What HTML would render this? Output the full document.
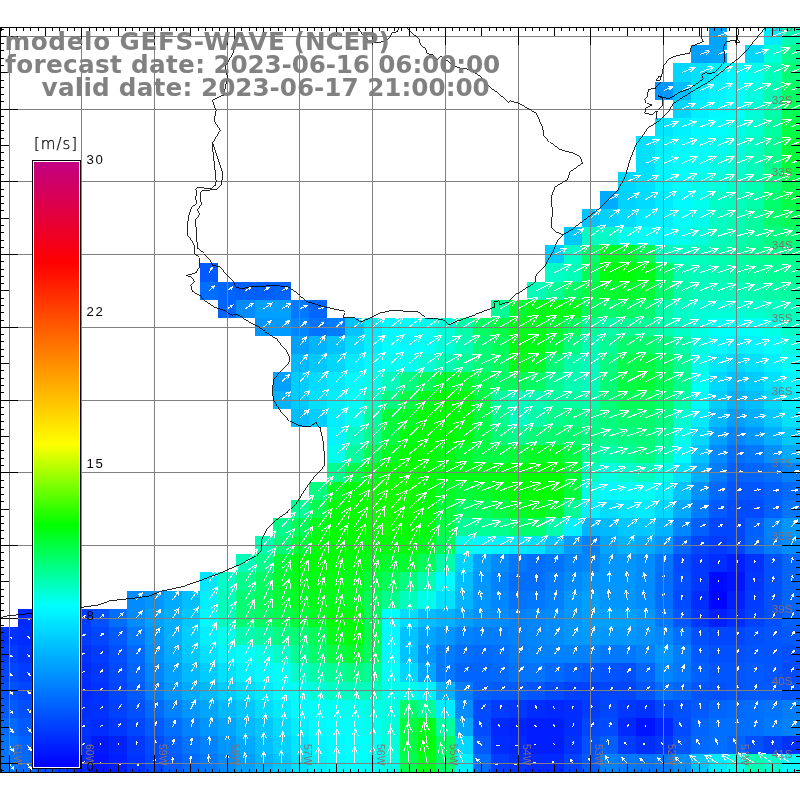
<!DOCTYPE html>
<html lang="pt"><head><meta charset="utf-8"><title>GEFS-WAVE wind</title>
<style>html,body{margin:0;padding:0;background:#fff;overflow:hidden}svg{display:block}</style></head>
<body>
<svg width="800" height="800" viewBox="0 0 800 800">
<defs><clipPath id="pc"><rect x="0" y="27" width="800" height="746"/></clipPath><linearGradient id="cb" x1="0" y1="0" x2="0" y2="1"><stop offset="0" stop-color="#c30082"/><stop offset="0.1667" stop-color="#ff0000"/><stop offset="0.4667" stop-color="#ffff00"/><stop offset="0.6" stop-color="#00ff00"/><stop offset="0.7333" stop-color="#00ffff"/><stop offset="1" stop-color="#0000ff"/></linearGradient></defs>
<rect width="800" height="800" fill="#fff"/>
<g clip-path="url(#pc)">
<g shape-rendering="crispEdges"><rect x="709" y="27" width="18" height="18" fill="#00a5ff"/><rect x="764" y="27" width="18" height="18" fill="#00ebff"/><rect x="782" y="27" width="18" height="18" fill="#00ffb3"/><rect x="691" y="45" width="18" height="18" fill="#00a0ff"/><rect x="709" y="45" width="18" height="18" fill="#00a5ff"/><rect x="745" y="45" width="19" height="18" fill="#00d7ff"/><rect x="764" y="45" width="18" height="18" fill="#00ffd6"/><rect x="782" y="45" width="18" height="18" fill="#00ff8b"/><rect x="673" y="63" width="18" height="19" fill="#00d7ff"/><rect x="691" y="63" width="18" height="19" fill="#00e1ff"/><rect x="709" y="63" width="18" height="19" fill="#00f0ff"/><rect x="727" y="63" width="18" height="19" fill="#00faff"/><rect x="745" y="63" width="19" height="19" fill="#00ffea"/><rect x="764" y="63" width="18" height="19" fill="#00ffbd"/><rect x="782" y="63" width="18" height="19" fill="#00ff77"/><rect x="655" y="82" width="18" height="18" fill="#0096ff"/><rect x="673" y="82" width="18" height="18" fill="#00beff"/><rect x="691" y="82" width="18" height="18" fill="#00ebff"/><rect x="709" y="82" width="18" height="18" fill="#00f5ff"/><rect x="727" y="82" width="18" height="18" fill="#00fff9"/><rect x="745" y="82" width="19" height="18" fill="#00ffe0"/><rect x="764" y="82" width="18" height="18" fill="#00ffb3"/><rect x="782" y="82" width="18" height="18" fill="#00ff63"/><rect x="673" y="100" width="18" height="18" fill="#00d7ff"/><rect x="691" y="100" width="18" height="18" fill="#00f0ff"/><rect x="709" y="100" width="18" height="18" fill="#00faff"/><rect x="727" y="100" width="18" height="18" fill="#00fff4"/><rect x="745" y="100" width="19" height="18" fill="#00ffd6"/><rect x="764" y="100" width="18" height="18" fill="#00ffa9"/><rect x="782" y="100" width="18" height="18" fill="#00ff59"/><rect x="655" y="118" width="18" height="18" fill="#00e6ff"/><rect x="673" y="118" width="18" height="18" fill="#00f0ff"/><rect x="691" y="118" width="18" height="18" fill="#00faff"/><rect x="709" y="118" width="18" height="18" fill="#00fff9"/><rect x="727" y="118" width="18" height="18" fill="#00ffea"/><rect x="745" y="118" width="19" height="18" fill="#00ffd1"/><rect x="764" y="118" width="18" height="18" fill="#00ff9f"/><rect x="782" y="118" width="18" height="18" fill="#00ff45"/><rect x="636" y="136" width="19" height="18" fill="#00e1ff"/><rect x="655" y="136" width="18" height="18" fill="#00f0ff"/><rect x="673" y="136" width="18" height="18" fill="#00faff"/><rect x="691" y="136" width="18" height="18" fill="#00fff9"/><rect x="709" y="136" width="18" height="18" fill="#00ffef"/><rect x="727" y="136" width="18" height="18" fill="#00ffe0"/><rect x="745" y="136" width="19" height="18" fill="#00ffc2"/><rect x="764" y="136" width="18" height="18" fill="#00ff95"/><rect x="782" y="136" width="18" height="18" fill="#00ff3b"/><rect x="636" y="154" width="19" height="18" fill="#00e1ff"/><rect x="655" y="154" width="18" height="18" fill="#00f5ff"/><rect x="673" y="154" width="18" height="18" fill="#00fff9"/><rect x="691" y="154" width="18" height="18" fill="#00fff4"/><rect x="709" y="154" width="18" height="18" fill="#00ffe5"/><rect x="727" y="154" width="18" height="18" fill="#00ffd1"/><rect x="745" y="154" width="19" height="18" fill="#00ffb8"/><rect x="764" y="154" width="18" height="18" fill="#00ff8b"/><rect x="782" y="154" width="18" height="18" fill="#00ff3b"/><rect x="618" y="172" width="18" height="19" fill="#00d7ff"/><rect x="636" y="172" width="19" height="19" fill="#00e1ff"/><rect x="655" y="172" width="18" height="19" fill="#00f5ff"/><rect x="673" y="172" width="18" height="19" fill="#00fff9"/><rect x="691" y="172" width="18" height="19" fill="#00ffea"/><rect x="709" y="172" width="18" height="19" fill="#00ffdb"/><rect x="727" y="172" width="18" height="19" fill="#00ffc7"/><rect x="745" y="172" width="19" height="19" fill="#00ffb3"/><rect x="764" y="172" width="18" height="19" fill="#00ff81"/><rect x="782" y="172" width="18" height="19" fill="#00ff4f"/><rect x="600" y="191" width="18" height="18" fill="#00aaff"/><rect x="618" y="191" width="18" height="18" fill="#00d2ff"/><rect x="636" y="191" width="19" height="18" fill="#00dcff"/><rect x="655" y="191" width="18" height="18" fill="#00ebff"/><rect x="673" y="191" width="18" height="18" fill="#00faff"/><rect x="691" y="191" width="18" height="18" fill="#00ffef"/><rect x="709" y="191" width="18" height="18" fill="#00ffc7"/><rect x="727" y="191" width="18" height="18" fill="#00ffbd"/><rect x="745" y="191" width="19" height="18" fill="#00ffa9"/><rect x="764" y="191" width="18" height="18" fill="#00ff6d"/><rect x="782" y="191" width="18" height="18" fill="#00ff45"/><rect x="582" y="209" width="18" height="18" fill="#00c3ff"/><rect x="600" y="209" width="18" height="18" fill="#00d2ff"/><rect x="618" y="209" width="18" height="18" fill="#00dcff"/><rect x="636" y="209" width="19" height="18" fill="#00ebff"/><rect x="655" y="209" width="18" height="18" fill="#00f0ff"/><rect x="673" y="209" width="18" height="18" fill="#00fff9"/><rect x="691" y="209" width="18" height="18" fill="#00ffea"/><rect x="709" y="209" width="18" height="18" fill="#00ffc2"/><rect x="727" y="209" width="18" height="18" fill="#00ffb3"/><rect x="745" y="209" width="19" height="18" fill="#00ff9f"/><rect x="764" y="209" width="18" height="18" fill="#00ff6d"/><rect x="782" y="209" width="18" height="18" fill="#00ff59"/><rect x="564" y="227" width="18" height="18" fill="#00c8ff"/><rect x="582" y="227" width="18" height="18" fill="#00ffc2"/><rect x="600" y="227" width="18" height="18" fill="#00ffc7"/><rect x="618" y="227" width="18" height="18" fill="#00ffea"/><rect x="636" y="227" width="19" height="18" fill="#00fff4"/><rect x="655" y="227" width="18" height="18" fill="#00faff"/><rect x="673" y="227" width="18" height="18" fill="#00ffef"/><rect x="691" y="227" width="18" height="18" fill="#00ffdb"/><rect x="709" y="227" width="18" height="18" fill="#00ffbd"/><rect x="727" y="227" width="18" height="18" fill="#00ffae"/><rect x="745" y="227" width="19" height="18" fill="#00ff9f"/><rect x="764" y="227" width="18" height="18" fill="#00ff81"/><rect x="782" y="227" width="18" height="18" fill="#00ff77"/><rect x="545" y="245" width="19" height="18" fill="#00cdff"/><rect x="564" y="245" width="18" height="18" fill="#00ffc7"/><rect x="582" y="245" width="18" height="18" fill="#00ff6d"/><rect x="600" y="245" width="18" height="18" fill="#00ff27"/><rect x="618" y="245" width="18" height="18" fill="#00ff31"/><rect x="636" y="245" width="19" height="18" fill="#00ff59"/><rect x="655" y="245" width="18" height="18" fill="#00ffbd"/><rect x="673" y="245" width="18" height="18" fill="#00ffc2"/><rect x="691" y="245" width="18" height="18" fill="#00ffbd"/><rect x="709" y="245" width="18" height="18" fill="#00ffae"/><rect x="727" y="245" width="18" height="18" fill="#00ffa4"/><rect x="745" y="245" width="19" height="18" fill="#00ff95"/><rect x="764" y="245" width="36" height="18" fill="#00ff8b"/><rect x="200" y="263" width="18" height="19" fill="#005aff"/><rect x="545" y="263" width="19" height="19" fill="#00ffc7"/><rect x="564" y="263" width="18" height="19" fill="#00ffb8"/><rect x="582" y="263" width="18" height="19" fill="#00ff59"/><rect x="600" y="263" width="18" height="19" fill="#00ff13"/><rect x="618" y="263" width="18" height="19" fill="#00ff09"/><rect x="636" y="263" width="19" height="19" fill="#00ff18"/><rect x="655" y="263" width="18" height="19" fill="#00ff63"/><rect x="673" y="263" width="18" height="19" fill="#00ffb3"/><rect x="691" y="263" width="18" height="19" fill="#00ffbd"/><rect x="709" y="263" width="18" height="19" fill="#00ffb3"/><rect x="727" y="263" width="18" height="19" fill="#00ffa9"/><rect x="745" y="263" width="19" height="19" fill="#00ff9f"/><rect x="764" y="263" width="36" height="19" fill="#00ff95"/><rect x="200" y="282" width="18" height="18" fill="#006eff"/><rect x="218" y="282" width="18" height="18" fill="#0064ff"/><rect x="236" y="282" width="37" height="18" fill="#005fff"/><rect x="273" y="282" width="18" height="18" fill="#0064ff"/><rect x="527" y="282" width="18" height="18" fill="#00ffb8"/><rect x="545" y="282" width="19" height="18" fill="#00ff95"/><rect x="564" y="282" width="18" height="18" fill="#00ff63"/><rect x="582" y="282" width="18" height="18" fill="#00ff45"/><rect x="600" y="282" width="18" height="18" fill="#00ff31"/><rect x="618" y="282" width="18" height="18" fill="#00ff2c"/><rect x="636" y="282" width="19" height="18" fill="#00ff36"/><rect x="655" y="282" width="18" height="18" fill="#00ff6d"/><rect x="673" y="282" width="18" height="18" fill="#00ffa9"/><rect x="691" y="282" width="36" height="18" fill="#00ffbd"/><rect x="727" y="282" width="18" height="18" fill="#00ffb8"/><rect x="745" y="282" width="19" height="18" fill="#00ffae"/><rect x="764" y="282" width="18" height="18" fill="#00ffa4"/><rect x="782" y="282" width="18" height="18" fill="#00ff9f"/><rect x="218" y="300" width="18" height="18" fill="#0064ff"/><rect x="236" y="300" width="19" height="18" fill="#008cff"/><rect x="255" y="300" width="36" height="18" fill="#00a0ff"/><rect x="291" y="300" width="18" height="18" fill="#0078ff"/><rect x="309" y="300" width="18" height="18" fill="#0064ff"/><rect x="491" y="300" width="18" height="18" fill="#00ff95"/><rect x="509" y="300" width="18" height="18" fill="#00ff31"/><rect x="527" y="300" width="18" height="18" fill="#00ff18"/><rect x="545" y="300" width="19" height="18" fill="#00ff13"/><rect x="564" y="300" width="18" height="18" fill="#00ff1d"/><rect x="582" y="300" width="18" height="18" fill="#00ff59"/><rect x="600" y="300" width="18" height="18" fill="#00ff6d"/><rect x="618" y="300" width="18" height="18" fill="#00ff63"/><rect x="636" y="300" width="19" height="18" fill="#00ff6d"/><rect x="655" y="300" width="18" height="18" fill="#00ffa9"/><rect x="673" y="300" width="18" height="18" fill="#00ffc7"/><rect x="691" y="300" width="54" height="18" fill="#00ffd6"/><rect x="745" y="300" width="19" height="18" fill="#00ffcc"/><rect x="764" y="300" width="18" height="18" fill="#00ffc2"/><rect x="782" y="300" width="18" height="18" fill="#00ffb8"/><rect x="255" y="318" width="18" height="18" fill="#0096ff"/><rect x="273" y="318" width="18" height="18" fill="#009bff"/><rect x="291" y="318" width="18" height="18" fill="#0087ff"/><rect x="309" y="318" width="18" height="18" fill="#0073ff"/><rect x="327" y="318" width="18" height="18" fill="#007dff"/><rect x="345" y="318" width="19" height="18" fill="#00c3ff"/><rect x="364" y="318" width="18" height="18" fill="#00ebff"/><rect x="382" y="318" width="18" height="18" fill="#00faff"/><rect x="400" y="318" width="18" height="18" fill="#00fff9"/><rect x="418" y="318" width="18" height="18" fill="#00ffef"/><rect x="436" y="318" width="19" height="18" fill="#00ffd6"/><rect x="455" y="318" width="18" height="18" fill="#00ffa9"/><rect x="473" y="318" width="18" height="18" fill="#00ff63"/><rect x="491" y="318" width="18" height="18" fill="#00ff45"/><rect x="509" y="318" width="36" height="18" fill="#00ff1d"/><rect x="545" y="318" width="19" height="18" fill="#00ff31"/><rect x="564" y="318" width="18" height="18" fill="#00ff59"/><rect x="582" y="318" width="18" height="18" fill="#00ff95"/><rect x="600" y="318" width="18" height="18" fill="#00ffa9"/><rect x="618" y="318" width="37" height="18" fill="#00ff95"/><rect x="655" y="318" width="18" height="18" fill="#00ffae"/><rect x="673" y="318" width="18" height="18" fill="#00ffc7"/><rect x="691" y="318" width="18" height="18" fill="#00ffe0"/><rect x="709" y="318" width="18" height="18" fill="#00fff4"/><rect x="727" y="318" width="18" height="18" fill="#00fff9"/><rect x="745" y="318" width="19" height="18" fill="#00fff4"/><rect x="764" y="318" width="18" height="18" fill="#00ffe5"/><rect x="782" y="318" width="18" height="18" fill="#00ffc7"/><rect x="291" y="336" width="18" height="18" fill="#00a0ff"/><rect x="309" y="336" width="18" height="18" fill="#00b4ff"/><rect x="327" y="336" width="18" height="18" fill="#00c3ff"/><rect x="345" y="336" width="19" height="18" fill="#00dcff"/><rect x="364" y="336" width="18" height="18" fill="#00f0ff"/><rect x="382" y="336" width="18" height="18" fill="#00ffff"/><rect x="400" y="336" width="18" height="18" fill="#00faff"/><rect x="418" y="336" width="18" height="18" fill="#00fff4"/><rect x="436" y="336" width="19" height="18" fill="#00ffd6"/><rect x="455" y="336" width="18" height="18" fill="#00ffb3"/><rect x="473" y="336" width="18" height="18" fill="#00ff77"/><rect x="491" y="336" width="18" height="18" fill="#00ff59"/><rect x="509" y="336" width="18" height="18" fill="#00ff13"/><rect x="527" y="336" width="18" height="18" fill="#00ff18"/><rect x="545" y="336" width="19" height="18" fill="#00ff3b"/><rect x="564" y="336" width="18" height="18" fill="#00ff81"/><rect x="582" y="336" width="18" height="18" fill="#00ffb3"/><rect x="600" y="336" width="18" height="18" fill="#00ff95"/><rect x="618" y="336" width="37" height="18" fill="#00ff6d"/><rect x="655" y="336" width="18" height="18" fill="#00ff81"/><rect x="673" y="336" width="18" height="18" fill="#00ffa9"/><rect x="691" y="336" width="18" height="18" fill="#00ffe0"/><rect x="709" y="336" width="18" height="18" fill="#00faff"/><rect x="727" y="336" width="18" height="18" fill="#00f0ff"/><rect x="745" y="336" width="19" height="18" fill="#00f5ff"/><rect x="764" y="336" width="18" height="18" fill="#00ffff"/><rect x="782" y="336" width="18" height="18" fill="#00ffe0"/><rect x="291" y="354" width="18" height="18" fill="#00b9ff"/><rect x="309" y="354" width="18" height="18" fill="#00c8ff"/><rect x="327" y="354" width="18" height="18" fill="#00d7ff"/><rect x="345" y="354" width="19" height="18" fill="#00ebff"/><rect x="364" y="354" width="18" height="18" fill="#00faff"/><rect x="382" y="354" width="18" height="18" fill="#00fff4"/><rect x="400" y="354" width="18" height="18" fill="#00ffef"/><rect x="418" y="354" width="18" height="18" fill="#00ffd6"/><rect x="436" y="354" width="19" height="18" fill="#00ffb3"/><rect x="455" y="354" width="18" height="18" fill="#00ff95"/><rect x="473" y="354" width="18" height="18" fill="#00ff77"/><rect x="491" y="354" width="18" height="18" fill="#00ff63"/><rect x="509" y="354" width="18" height="18" fill="#00ff1d"/><rect x="527" y="354" width="18" height="18" fill="#00ff31"/><rect x="545" y="354" width="19" height="18" fill="#00ff77"/><rect x="564" y="354" width="18" height="18" fill="#00ffa9"/><rect x="582" y="354" width="18" height="18" fill="#00ffbd"/><rect x="600" y="354" width="18" height="18" fill="#00ff81"/><rect x="618" y="354" width="18" height="18" fill="#00ff4f"/><rect x="636" y="354" width="19" height="18" fill="#00ff45"/><rect x="655" y="354" width="18" height="18" fill="#00ff63"/><rect x="673" y="354" width="18" height="18" fill="#00ff95"/><rect x="691" y="354" width="18" height="18" fill="#00ffea"/><rect x="709" y="354" width="18" height="18" fill="#00e6ff"/><rect x="727" y="354" width="18" height="18" fill="#00d7ff"/><rect x="745" y="354" width="19" height="18" fill="#00e1ff"/><rect x="764" y="354" width="18" height="18" fill="#00f0ff"/><rect x="782" y="354" width="18" height="18" fill="#00fff9"/><rect x="273" y="372" width="18" height="19" fill="#00a0ff"/><rect x="291" y="372" width="18" height="19" fill="#00cdff"/><rect x="309" y="372" width="18" height="19" fill="#00dcff"/><rect x="327" y="372" width="18" height="19" fill="#00ebff"/><rect x="345" y="372" width="19" height="19" fill="#00faff"/><rect x="364" y="372" width="18" height="19" fill="#00ffea"/><rect x="382" y="372" width="18" height="19" fill="#00ffbd"/><rect x="400" y="372" width="18" height="19" fill="#00ff81"/><rect x="418" y="372" width="18" height="19" fill="#00ff59"/><rect x="436" y="372" width="37" height="19" fill="#00ff31"/><rect x="473" y="372" width="18" height="19" fill="#00ff4f"/><rect x="491" y="372" width="18" height="19" fill="#00ff63"/><rect x="509" y="372" width="18" height="19" fill="#00ff59"/><rect x="527" y="372" width="18" height="19" fill="#00ff63"/><rect x="545" y="372" width="19" height="19" fill="#00ff95"/><rect x="564" y="372" width="18" height="19" fill="#00ffb3"/><rect x="582" y="372" width="18" height="19" fill="#00ffbd"/><rect x="600" y="372" width="18" height="19" fill="#00ff77"/><rect x="618" y="372" width="18" height="19" fill="#00ff45"/><rect x="636" y="372" width="19" height="19" fill="#00ff3b"/><rect x="655" y="372" width="18" height="19" fill="#00ff59"/><rect x="673" y="372" width="18" height="19" fill="#00ff8b"/><rect x="691" y="372" width="18" height="19" fill="#00fff4"/><rect x="709" y="372" width="18" height="19" fill="#00d7ff"/><rect x="727" y="372" width="18" height="19" fill="#00c3ff"/><rect x="745" y="372" width="19" height="19" fill="#00cdff"/><rect x="764" y="372" width="18" height="19" fill="#00e1ff"/><rect x="782" y="372" width="18" height="19" fill="#00f5ff"/><rect x="273" y="391" width="18" height="18" fill="#00b4ff"/><rect x="291" y="391" width="18" height="18" fill="#00cdff"/><rect x="309" y="391" width="18" height="18" fill="#00e1ff"/><rect x="327" y="391" width="18" height="18" fill="#00f0ff"/><rect x="345" y="391" width="19" height="18" fill="#00fff9"/><rect x="364" y="391" width="18" height="18" fill="#00ffc2"/><rect x="382" y="391" width="18" height="18" fill="#00ff81"/><rect x="400" y="391" width="18" height="18" fill="#00ff45"/><rect x="418" y="391" width="18" height="18" fill="#00ff1d"/><rect x="436" y="391" width="19" height="18" fill="#00ff00"/><rect x="455" y="391" width="18" height="18" fill="#00ff09"/><rect x="473" y="391" width="18" height="18" fill="#00ff45"/><rect x="491" y="391" width="18" height="18" fill="#00ff9f"/><rect x="509" y="391" width="18" height="18" fill="#00ffbd"/><rect x="527" y="391" width="18" height="18" fill="#00ffb3"/><rect x="545" y="391" width="37" height="18" fill="#00ff9f"/><rect x="582" y="391" width="18" height="18" fill="#00ffa9"/><rect x="600" y="391" width="18" height="18" fill="#00ff77"/><rect x="618" y="391" width="37" height="18" fill="#00ff59"/><rect x="655" y="391" width="18" height="18" fill="#00ff6d"/><rect x="673" y="391" width="18" height="18" fill="#00ffa9"/><rect x="691" y="391" width="18" height="18" fill="#00faff"/><rect x="709" y="391" width="18" height="18" fill="#00cdff"/><rect x="727" y="391" width="18" height="18" fill="#00b4ff"/><rect x="745" y="391" width="19" height="18" fill="#00beff"/><rect x="764" y="391" width="18" height="18" fill="#00d7ff"/><rect x="782" y="391" width="18" height="18" fill="#00ebff"/><rect x="291" y="409" width="18" height="18" fill="#00beff"/><rect x="309" y="409" width="18" height="18" fill="#00cdff"/><rect x="327" y="409" width="18" height="18" fill="#00eeff"/><rect x="345" y="409" width="19" height="18" fill="#00ffea"/><rect x="364" y="409" width="18" height="18" fill="#00ff9f"/><rect x="382" y="409" width="18" height="18" fill="#00ff3b"/><rect x="400" y="409" width="18" height="18" fill="#00ff27"/><rect x="418" y="409" width="18" height="18" fill="#00ff04"/><rect x="436" y="409" width="19" height="18" fill="#00ff00"/><rect x="455" y="409" width="18" height="18" fill="#00ff0e"/><rect x="473" y="409" width="18" height="18" fill="#00ff45"/><rect x="491" y="409" width="18" height="18" fill="#00ff8b"/><rect x="509" y="409" width="18" height="18" fill="#00ffc2"/><rect x="527" y="409" width="18" height="18" fill="#00ffa9"/><rect x="545" y="409" width="19" height="18" fill="#00ff8b"/><rect x="564" y="409" width="18" height="18" fill="#00ff81"/><rect x="582" y="409" width="18" height="18" fill="#00ff8b"/><rect x="600" y="409" width="18" height="18" fill="#00ff7c"/><rect x="618" y="409" width="37" height="18" fill="#00ff6d"/><rect x="655" y="409" width="18" height="18" fill="#00ff81"/><rect x="673" y="409" width="18" height="18" fill="#00ffd1"/><rect x="691" y="409" width="18" height="18" fill="#00ebff"/><rect x="709" y="409" width="18" height="18" fill="#00b9ff"/><rect x="727" y="409" width="18" height="18" fill="#00a0ff"/><rect x="745" y="409" width="19" height="18" fill="#00afff"/><rect x="764" y="409" width="18" height="18" fill="#00c8ff"/><rect x="782" y="409" width="18" height="18" fill="#00e1ff"/><rect x="327" y="427" width="18" height="18" fill="#00f5ff"/><rect x="345" y="427" width="19" height="18" fill="#00ffc7"/><rect x="364" y="427" width="18" height="18" fill="#00ff8b"/><rect x="382" y="427" width="18" height="18" fill="#00ff40"/><rect x="400" y="427" width="18" height="18" fill="#00ff13"/><rect x="418" y="427" width="37" height="18" fill="#00ff00"/><rect x="455" y="427" width="18" height="18" fill="#00ff18"/><rect x="473" y="427" width="18" height="18" fill="#00ff45"/><rect x="491" y="427" width="18" height="18" fill="#00ff77"/><rect x="509" y="427" width="18" height="18" fill="#00ff8b"/><rect x="527" y="427" width="18" height="18" fill="#00ff77"/><rect x="545" y="427" width="37" height="18" fill="#00ff6d"/><rect x="582" y="427" width="18" height="18" fill="#00ff81"/><rect x="600" y="427" width="18" height="18" fill="#00ff8b"/><rect x="618" y="427" width="18" height="18" fill="#00ff81"/><rect x="636" y="427" width="19" height="18" fill="#00ff77"/><rect x="655" y="427" width="18" height="18" fill="#00ff95"/><rect x="673" y="427" width="18" height="18" fill="#00ffea"/><rect x="691" y="427" width="18" height="18" fill="#00d7ff"/><rect x="709" y="427" width="18" height="18" fill="#00a0ff"/><rect x="727" y="427" width="18" height="18" fill="#0087ff"/><rect x="745" y="427" width="19" height="18" fill="#0096ff"/><rect x="764" y="427" width="18" height="18" fill="#00afff"/><rect x="782" y="427" width="18" height="18" fill="#00c8ff"/><rect x="327" y="445" width="18" height="18" fill="#00ffea"/><rect x="345" y="445" width="19" height="18" fill="#00ff9f"/><rect x="364" y="445" width="18" height="18" fill="#00ff54"/><rect x="382" y="445" width="18" height="18" fill="#00ff22"/><rect x="400" y="445" width="18" height="18" fill="#00ff00"/><rect x="418" y="445" width="18" height="18" fill="#05ff00"/><rect x="436" y="445" width="19" height="18" fill="#00ff18"/><rect x="455" y="445" width="18" height="18" fill="#00ff31"/><rect x="473" y="445" width="36" height="18" fill="#00ff45"/><rect x="509" y="445" width="18" height="18" fill="#00ff3b"/><rect x="527" y="445" width="37" height="18" fill="#00ff27"/><rect x="564" y="445" width="18" height="18" fill="#00ff45"/><rect x="582" y="445" width="18" height="18" fill="#00ff95"/><rect x="600" y="445" width="18" height="18" fill="#00ffa9"/><rect x="618" y="445" width="18" height="18" fill="#00ff95"/><rect x="636" y="445" width="19" height="18" fill="#00ff81"/><rect x="655" y="445" width="18" height="18" fill="#00ffae"/><rect x="673" y="445" width="18" height="18" fill="#00faff"/><rect x="691" y="445" width="18" height="18" fill="#00c3ff"/><rect x="709" y="445" width="18" height="18" fill="#008cff"/><rect x="727" y="445" width="18" height="18" fill="#006eff"/><rect x="745" y="445" width="19" height="18" fill="#0078ff"/><rect x="764" y="445" width="18" height="18" fill="#0091ff"/><rect x="782" y="445" width="18" height="18" fill="#00aaff"/><rect x="327" y="463" width="18" height="19" fill="#00ff90"/><rect x="345" y="463" width="19" height="19" fill="#00ff4a"/><rect x="364" y="463" width="18" height="19" fill="#00ff1d"/><rect x="382" y="463" width="18" height="19" fill="#05ff00"/><rect x="400" y="463" width="18" height="19" fill="#0aff00"/><rect x="418" y="463" width="18" height="19" fill="#00ff00"/><rect x="436" y="463" width="19" height="19" fill="#00ff13"/><rect x="455" y="463" width="36" height="19" fill="#00ff18"/><rect x="491" y="463" width="18" height="19" fill="#00ff13"/><rect x="509" y="463" width="18" height="19" fill="#00ff09"/><rect x="527" y="463" width="37" height="19" fill="#00ff00"/><rect x="564" y="463" width="18" height="19" fill="#00ff31"/><rect x="582" y="463" width="18" height="19" fill="#00ffbd"/><rect x="600" y="463" width="18" height="19" fill="#00ffe0"/><rect x="618" y="463" width="18" height="19" fill="#00ffcc"/><rect x="636" y="463" width="19" height="19" fill="#00ffbd"/><rect x="655" y="463" width="18" height="19" fill="#00ffe0"/><rect x="673" y="463" width="18" height="19" fill="#00e1ff"/><rect x="691" y="463" width="18" height="19" fill="#00afff"/><rect x="709" y="463" width="18" height="19" fill="#007dff"/><rect x="727" y="463" width="18" height="19" fill="#005fff"/><rect x="745" y="463" width="19" height="19" fill="#0064ff"/><rect x="764" y="463" width="18" height="19" fill="#006eff"/><rect x="782" y="463" width="18" height="19" fill="#0082ff"/><rect x="309" y="482" width="18" height="18" fill="#00ff81"/><rect x="327" y="482" width="18" height="18" fill="#00ff27"/><rect x="345" y="482" width="19" height="18" fill="#00ff09"/><rect x="364" y="482" width="18" height="18" fill="#0aff00"/><rect x="382" y="482" width="36" height="18" fill="#14ff00"/><rect x="418" y="482" width="18" height="18" fill="#00ff09"/><rect x="436" y="482" width="19" height="18" fill="#00ff27"/><rect x="455" y="482" width="18" height="18" fill="#00ff3b"/><rect x="473" y="482" width="18" height="18" fill="#00ff31"/><rect x="491" y="482" width="18" height="18" fill="#00ff1d"/><rect x="509" y="482" width="18" height="18" fill="#00ff00"/><rect x="527" y="482" width="18" height="18" fill="#05ff00"/><rect x="545" y="482" width="19" height="18" fill="#00ff00"/><rect x="564" y="482" width="18" height="18" fill="#00ff3b"/><rect x="582" y="482" width="18" height="18" fill="#00ffe5"/><rect x="600" y="482" width="18" height="18" fill="#00faff"/><rect x="618" y="482" width="18" height="18" fill="#00fff9"/><rect x="636" y="482" width="19" height="18" fill="#00fff4"/><rect x="655" y="482" width="18" height="18" fill="#00f0ff"/><rect x="673" y="482" width="18" height="18" fill="#00c3ff"/><rect x="691" y="482" width="18" height="18" fill="#0091ff"/><rect x="709" y="482" width="18" height="18" fill="#0069ff"/><rect x="727" y="482" width="37" height="18" fill="#0055ff"/><rect x="764" y="482" width="18" height="18" fill="#005fff"/><rect x="782" y="482" width="18" height="18" fill="#0069ff"/><rect x="291" y="500" width="18" height="18" fill="#00ff95"/><rect x="309" y="500" width="18" height="18" fill="#00ff4f"/><rect x="327" y="500" width="18" height="18" fill="#00ff09"/><rect x="345" y="500" width="19" height="18" fill="#08ff00"/><rect x="364" y="500" width="18" height="18" fill="#0fff00"/><rect x="382" y="500" width="18" height="18" fill="#14ff00"/><rect x="400" y="500" width="18" height="18" fill="#0fff00"/><rect x="418" y="500" width="18" height="18" fill="#00ff09"/><rect x="436" y="500" width="19" height="18" fill="#00ff3b"/><rect x="455" y="500" width="18" height="18" fill="#00ff63"/><rect x="473" y="500" width="18" height="18" fill="#00ff59"/><rect x="491" y="500" width="18" height="18" fill="#00ff45"/><rect x="509" y="500" width="18" height="18" fill="#00ff27"/><rect x="527" y="500" width="18" height="18" fill="#00ff1d"/><rect x="545" y="500" width="19" height="18" fill="#00ff31"/><rect x="564" y="500" width="18" height="18" fill="#00ff95"/><rect x="582" y="500" width="18" height="18" fill="#00f0ff"/><rect x="600" y="500" width="18" height="18" fill="#00dcff"/><rect x="618" y="500" width="18" height="18" fill="#00e6ff"/><rect x="636" y="500" width="19" height="18" fill="#00ebff"/><rect x="655" y="500" width="18" height="18" fill="#00d7ff"/><rect x="673" y="500" width="18" height="18" fill="#00aaff"/><rect x="691" y="500" width="18" height="18" fill="#007dff"/><rect x="709" y="500" width="18" height="18" fill="#005aff"/><rect x="727" y="500" width="37" height="18" fill="#004bff"/><rect x="764" y="500" width="18" height="18" fill="#005fff"/><rect x="782" y="500" width="18" height="18" fill="#0073ff"/><rect x="273" y="518" width="18" height="18" fill="#00ff8b"/><rect x="291" y="518" width="18" height="18" fill="#00ff59"/><rect x="309" y="518" width="18" height="18" fill="#00ff1d"/><rect x="327" y="518" width="37" height="18" fill="#00ff00"/><rect x="364" y="518" width="18" height="18" fill="#0aff00"/><rect x="382" y="518" width="18" height="18" fill="#0fff00"/><rect x="400" y="518" width="18" height="18" fill="#05ff00"/><rect x="418" y="518" width="18" height="18" fill="#00ff13"/><rect x="436" y="518" width="19" height="18" fill="#00ff45"/><rect x="455" y="518" width="36" height="18" fill="#00ff95"/><rect x="491" y="518" width="18" height="18" fill="#00ff8b"/><rect x="509" y="518" width="36" height="18" fill="#00ff6d"/><rect x="545" y="518" width="19" height="18" fill="#00ffa9"/><rect x="564" y="518" width="18" height="18" fill="#00f0ff"/><rect x="582" y="518" width="18" height="18" fill="#00b4ff"/><rect x="600" y="518" width="18" height="18" fill="#00b9ff"/><rect x="618" y="518" width="37" height="18" fill="#00c8ff"/><rect x="655" y="518" width="18" height="18" fill="#00b4ff"/><rect x="673" y="518" width="18" height="18" fill="#0087ff"/><rect x="691" y="518" width="18" height="18" fill="#005fff"/><rect x="709" y="518" width="36" height="18" fill="#0046ff"/><rect x="745" y="518" width="19" height="18" fill="#005fff"/><rect x="764" y="518" width="18" height="18" fill="#0082ff"/><rect x="782" y="518" width="18" height="18" fill="#0096ff"/><rect x="255" y="536" width="18" height="18" fill="#00ffb3"/><rect x="273" y="536" width="18" height="18" fill="#00ff77"/><rect x="291" y="536" width="18" height="18" fill="#00ff3b"/><rect x="309" y="536" width="18" height="18" fill="#00ff0e"/><rect x="327" y="536" width="37" height="18" fill="#00ff00"/><rect x="364" y="536" width="54" height="18" fill="#00ff09"/><rect x="418" y="536" width="18" height="18" fill="#00ff1d"/><rect x="436" y="536" width="19" height="18" fill="#00ff59"/><rect x="455" y="536" width="18" height="18" fill="#00ffea"/><rect x="473" y="536" width="18" height="18" fill="#00faff"/><rect x="491" y="536" width="18" height="18" fill="#00f5ff"/><rect x="509" y="536" width="18" height="18" fill="#00ebff"/><rect x="527" y="536" width="18" height="18" fill="#00e1ff"/><rect x="545" y="536" width="19" height="18" fill="#00c3ff"/><rect x="564" y="536" width="18" height="18" fill="#009bff"/><rect x="582" y="536" width="18" height="18" fill="#0082ff"/><rect x="600" y="536" width="18" height="18" fill="#00a5ff"/><rect x="618" y="536" width="18" height="18" fill="#00b4ff"/><rect x="636" y="536" width="19" height="18" fill="#00aaff"/><rect x="655" y="536" width="18" height="18" fill="#0096ff"/><rect x="673" y="536" width="18" height="18" fill="#0064ff"/><rect x="691" y="536" width="18" height="18" fill="#0046ff"/><rect x="709" y="536" width="18" height="18" fill="#003cff"/><rect x="727" y="536" width="18" height="18" fill="#0046ff"/><rect x="745" y="536" width="19" height="18" fill="#0064ff"/><rect x="764" y="536" width="18" height="18" fill="#007dff"/><rect x="782" y="536" width="18" height="18" fill="#008cff"/><rect x="236" y="554" width="19" height="18" fill="#00ffb8"/><rect x="255" y="554" width="18" height="18" fill="#00ff8b"/><rect x="273" y="554" width="18" height="18" fill="#00ff3b"/><rect x="291" y="554" width="18" height="18" fill="#00ff13"/><rect x="309" y="554" width="36" height="18" fill="#00ff04"/><rect x="345" y="554" width="19" height="18" fill="#00ff0e"/><rect x="364" y="554" width="18" height="18" fill="#00ff1d"/><rect x="382" y="554" width="36" height="18" fill="#00ff31"/><rect x="418" y="554" width="18" height="18" fill="#00ff59"/><rect x="436" y="554" width="19" height="18" fill="#00ffa9"/><rect x="455" y="554" width="18" height="18" fill="#00d2ff"/><rect x="473" y="554" width="18" height="18" fill="#00a0ff"/><rect x="491" y="554" width="18" height="18" fill="#008cff"/><rect x="509" y="554" width="18" height="18" fill="#0078ff"/><rect x="527" y="554" width="18" height="18" fill="#006eff"/><rect x="545" y="554" width="19" height="18" fill="#0073ff"/><rect x="564" y="554" width="18" height="18" fill="#0082ff"/><rect x="582" y="554" width="18" height="18" fill="#0087ff"/><rect x="600" y="554" width="36" height="18" fill="#0096ff"/><rect x="636" y="554" width="19" height="18" fill="#008cff"/><rect x="655" y="554" width="18" height="18" fill="#0073ff"/><rect x="673" y="554" width="18" height="18" fill="#004bff"/><rect x="691" y="554" width="18" height="18" fill="#0037ff"/><rect x="709" y="554" width="18" height="18" fill="#002dff"/><rect x="727" y="554" width="18" height="18" fill="#001eff"/><rect x="745" y="554" width="19" height="18" fill="#0032ff"/><rect x="764" y="554" width="18" height="18" fill="#0050ff"/><rect x="782" y="554" width="18" height="18" fill="#0064ff"/><rect x="200" y="572" width="18" height="19" fill="#00e6ff"/><rect x="218" y="572" width="18" height="19" fill="#00ffc7"/><rect x="236" y="572" width="19" height="19" fill="#00ff8b"/><rect x="255" y="572" width="18" height="19" fill="#00ff63"/><rect x="273" y="572" width="18" height="19" fill="#00ff31"/><rect x="291" y="572" width="18" height="19" fill="#00ff1d"/><rect x="309" y="572" width="36" height="19" fill="#00ff13"/><rect x="345" y="572" width="19" height="19" fill="#00ff1d"/><rect x="364" y="572" width="18" height="19" fill="#00ff3b"/><rect x="382" y="572" width="18" height="19" fill="#00ff59"/><rect x="400" y="572" width="18" height="19" fill="#00ff81"/><rect x="418" y="572" width="18" height="19" fill="#00ffb3"/><rect x="436" y="572" width="19" height="19" fill="#00faff"/><rect x="455" y="572" width="18" height="19" fill="#00beff"/><rect x="473" y="572" width="18" height="19" fill="#0096ff"/><rect x="491" y="572" width="18" height="19" fill="#0082ff"/><rect x="509" y="572" width="36" height="19" fill="#006eff"/><rect x="545" y="572" width="19" height="19" fill="#007dff"/><rect x="564" y="572" width="18" height="19" fill="#008cff"/><rect x="582" y="572" width="54" height="19" fill="#0096ff"/><rect x="636" y="572" width="19" height="19" fill="#008cff"/><rect x="655" y="572" width="18" height="19" fill="#006eff"/><rect x="673" y="572" width="18" height="19" fill="#0050ff"/><rect x="691" y="572" width="18" height="19" fill="#0037ff"/><rect x="709" y="572" width="18" height="19" fill="#000aff"/><rect x="727" y="572" width="18" height="19" fill="#0014ff"/><rect x="745" y="572" width="19" height="19" fill="#0037ff"/><rect x="764" y="572" width="18" height="19" fill="#0050ff"/><rect x="782" y="572" width="18" height="19" fill="#0064ff"/><rect x="127" y="591" width="18" height="18" fill="#008cff"/><rect x="145" y="591" width="19" height="18" fill="#0096ff"/><rect x="164" y="591" width="18" height="18" fill="#00aaff"/><rect x="182" y="591" width="18" height="18" fill="#00beff"/><rect x="200" y="591" width="18" height="18" fill="#00f0ff"/><rect x="218" y="591" width="18" height="18" fill="#00ffbd"/><rect x="236" y="591" width="19" height="18" fill="#00ff72"/><rect x="255" y="591" width="18" height="18" fill="#00ff59"/><rect x="273" y="591" width="18" height="18" fill="#00ff36"/><rect x="291" y="591" width="18" height="18" fill="#00ff27"/><rect x="309" y="591" width="36" height="18" fill="#00ff1d"/><rect x="345" y="591" width="19" height="18" fill="#00ff27"/><rect x="364" y="591" width="18" height="18" fill="#00ff59"/><rect x="382" y="591" width="18" height="18" fill="#00ff8b"/><rect x="400" y="591" width="18" height="18" fill="#00ffbd"/><rect x="418" y="591" width="18" height="18" fill="#00ffea"/><rect x="436" y="591" width="19" height="18" fill="#00e1ff"/><rect x="455" y="591" width="18" height="18" fill="#00b4ff"/><rect x="473" y="591" width="18" height="18" fill="#0096ff"/><rect x="491" y="591" width="18" height="18" fill="#0087ff"/><rect x="509" y="591" width="18" height="18" fill="#0073ff"/><rect x="527" y="591" width="18" height="18" fill="#0078ff"/><rect x="545" y="591" width="19" height="18" fill="#0082ff"/><rect x="564" y="591" width="18" height="18" fill="#0096ff"/><rect x="582" y="591" width="18" height="18" fill="#00a0ff"/><rect x="600" y="591" width="36" height="18" fill="#0096ff"/><rect x="636" y="591" width="19" height="18" fill="#008cff"/><rect x="655" y="591" width="18" height="18" fill="#006eff"/><rect x="673" y="591" width="18" height="18" fill="#004bff"/><rect x="691" y="591" width="18" height="18" fill="#002dff"/><rect x="709" y="591" width="18" height="18" fill="#0005ff"/><rect x="727" y="591" width="18" height="18" fill="#001eff"/><rect x="745" y="591" width="19" height="18" fill="#003cff"/><rect x="764" y="591" width="18" height="18" fill="#0050ff"/><rect x="782" y="591" width="18" height="18" fill="#0064ff"/><rect x="18" y="609" width="18" height="18" fill="#0028ff"/><rect x="36" y="609" width="19" height="18" fill="#002dff"/><rect x="55" y="609" width="18" height="18" fill="#0032ff"/><rect x="73" y="609" width="18" height="18" fill="#003cff"/><rect x="91" y="609" width="18" height="18" fill="#0050ff"/><rect x="109" y="609" width="18" height="18" fill="#006eff"/><rect x="127" y="609" width="18" height="18" fill="#008cff"/><rect x="145" y="609" width="19" height="18" fill="#00a0ff"/><rect x="164" y="609" width="18" height="18" fill="#00afff"/><rect x="182" y="609" width="18" height="18" fill="#00c8ff"/><rect x="200" y="609" width="18" height="18" fill="#00faff"/><rect x="218" y="609" width="18" height="18" fill="#00ffbd"/><rect x="236" y="609" width="19" height="18" fill="#00ff72"/><rect x="255" y="609" width="18" height="18" fill="#00ff63"/><rect x="273" y="609" width="18" height="18" fill="#00ff4f"/><rect x="291" y="609" width="18" height="18" fill="#00ff3b"/><rect x="309" y="609" width="18" height="18" fill="#00ff27"/><rect x="327" y="609" width="37" height="18" fill="#00ff09"/><rect x="364" y="609" width="18" height="18" fill="#00ff59"/><rect x="382" y="609" width="18" height="18" fill="#00ffff"/><rect x="400" y="609" width="18" height="18" fill="#00dcff"/><rect x="418" y="609" width="18" height="18" fill="#00beff"/><rect x="436" y="609" width="19" height="18" fill="#00b2ff"/><rect x="455" y="609" width="18" height="18" fill="#009eff"/><rect x="473" y="609" width="18" height="18" fill="#0091ff"/><rect x="491" y="609" width="18" height="18" fill="#008cff"/><rect x="509" y="609" width="18" height="18" fill="#0082ff"/><rect x="527" y="609" width="18" height="18" fill="#0087ff"/><rect x="545" y="609" width="19" height="18" fill="#008cff"/><rect x="564" y="609" width="18" height="18" fill="#0096ff"/><rect x="582" y="609" width="54" height="18" fill="#00a0ff"/><rect x="636" y="609" width="19" height="18" fill="#0096ff"/><rect x="655" y="609" width="18" height="18" fill="#0078ff"/><rect x="673" y="609" width="18" height="18" fill="#0055ff"/><rect x="691" y="609" width="18" height="18" fill="#0037ff"/><rect x="709" y="609" width="18" height="18" fill="#001eff"/><rect x="727" y="609" width="18" height="18" fill="#002dff"/><rect x="745" y="609" width="19" height="18" fill="#0041ff"/><rect x="764" y="609" width="18" height="18" fill="#0050ff"/><rect x="782" y="609" width="18" height="18" fill="#005fff"/><rect x="0" y="627" width="18" height="18" fill="#0032ff"/><rect x="18" y="627" width="18" height="18" fill="#002dff"/><rect x="36" y="627" width="19" height="18" fill="#0030ff"/><rect x="55" y="627" width="18" height="18" fill="#0034ff"/><rect x="73" y="627" width="18" height="18" fill="#003cff"/><rect x="91" y="627" width="18" height="18" fill="#0046ff"/><rect x="109" y="627" width="18" height="18" fill="#005aff"/><rect x="127" y="627" width="18" height="18" fill="#0078ff"/><rect x="145" y="627" width="19" height="18" fill="#0096ff"/><rect x="164" y="627" width="18" height="18" fill="#00afff"/><rect x="182" y="627" width="18" height="18" fill="#00cdff"/><rect x="200" y="627" width="18" height="18" fill="#00f0ff"/><rect x="218" y="627" width="18" height="18" fill="#00ffea"/><rect x="236" y="627" width="19" height="18" fill="#00ffb3"/><rect x="255" y="627" width="18" height="18" fill="#00ff9f"/><rect x="273" y="627" width="18" height="18" fill="#00ff81"/><rect x="291" y="627" width="18" height="18" fill="#00ff77"/><rect x="309" y="627" width="18" height="18" fill="#00ff59"/><rect x="327" y="627" width="18" height="18" fill="#00ff1d"/><rect x="345" y="627" width="19" height="18" fill="#00ff0e"/><rect x="364" y="627" width="18" height="18" fill="#00ff4f"/><rect x="382" y="627" width="18" height="18" fill="#00faff"/><rect x="400" y="627" width="18" height="18" fill="#00c3ff"/><rect x="418" y="627" width="18" height="18" fill="#00a5ff"/><rect x="436" y="627" width="19" height="18" fill="#0096ff"/><rect x="455" y="627" width="18" height="18" fill="#0082ff"/><rect x="473" y="627" width="36" height="18" fill="#007dff"/><rect x="509" y="627" width="18" height="18" fill="#0082ff"/><rect x="527" y="627" width="18" height="18" fill="#0087ff"/><rect x="545" y="627" width="19" height="18" fill="#008cff"/><rect x="564" y="627" width="18" height="18" fill="#0096ff"/><rect x="582" y="627" width="18" height="18" fill="#009bff"/><rect x="600" y="627" width="36" height="18" fill="#0096ff"/><rect x="636" y="627" width="19" height="18" fill="#0091ff"/><rect x="655" y="627" width="18" height="18" fill="#0087ff"/><rect x="673" y="627" width="18" height="18" fill="#006eff"/><rect x="691" y="627" width="18" height="18" fill="#0050ff"/><rect x="709" y="627" width="36" height="18" fill="#0046ff"/><rect x="745" y="627" width="19" height="18" fill="#0050ff"/><rect x="764" y="627" width="18" height="18" fill="#0055ff"/><rect x="782" y="627" width="18" height="18" fill="#005aff"/><rect x="0" y="645" width="18" height="18" fill="#003cff"/><rect x="18" y="645" width="73" height="18" fill="#0032ff"/><rect x="91" y="645" width="18" height="18" fill="#003cff"/><rect x="109" y="645" width="18" height="18" fill="#0050ff"/><rect x="127" y="645" width="18" height="18" fill="#0069ff"/><rect x="145" y="645" width="19" height="18" fill="#0091ff"/><rect x="164" y="645" width="18" height="18" fill="#00aaff"/><rect x="182" y="645" width="18" height="18" fill="#00c8ff"/><rect x="200" y="645" width="18" height="18" fill="#00e1ff"/><rect x="218" y="645" width="18" height="18" fill="#00f5ff"/><rect x="236" y="645" width="19" height="18" fill="#00fff9"/><rect x="255" y="645" width="18" height="18" fill="#00ffe5"/><rect x="273" y="645" width="18" height="18" fill="#00ffc7"/><rect x="291" y="645" width="18" height="18" fill="#00ff95"/><rect x="309" y="645" width="18" height="18" fill="#00ff6d"/><rect x="327" y="645" width="18" height="18" fill="#00ff45"/><rect x="345" y="645" width="19" height="18" fill="#00ff31"/><rect x="364" y="645" width="18" height="18" fill="#00ff63"/><rect x="382" y="645" width="18" height="18" fill="#00faff"/><rect x="400" y="645" width="18" height="18" fill="#00c3ff"/><rect x="418" y="645" width="18" height="18" fill="#0096ff"/><rect x="436" y="645" width="19" height="18" fill="#007dff"/><rect x="455" y="645" width="18" height="18" fill="#006eff"/><rect x="473" y="645" width="18" height="18" fill="#0069ff"/><rect x="491" y="645" width="18" height="18" fill="#006eff"/><rect x="509" y="645" width="18" height="18" fill="#007dff"/><rect x="527" y="645" width="73" height="18" fill="#0082ff"/><rect x="600" y="645" width="36" height="18" fill="#0078ff"/><rect x="636" y="645" width="19" height="18" fill="#0082ff"/><rect x="655" y="645" width="18" height="18" fill="#0096ff"/><rect x="673" y="645" width="18" height="18" fill="#007dff"/><rect x="691" y="645" width="18" height="18" fill="#005aff"/><rect x="709" y="645" width="36" height="18" fill="#0050ff"/><rect x="745" y="645" width="37" height="18" fill="#0055ff"/><rect x="782" y="645" width="18" height="18" fill="#0050ff"/><rect x="0" y="663" width="18" height="19" fill="#0046ff"/><rect x="18" y="663" width="18" height="19" fill="#003cff"/><rect x="36" y="663" width="19" height="19" fill="#0034ff"/><rect x="55" y="663" width="18" height="19" fill="#002fff"/><rect x="73" y="663" width="18" height="19" fill="#002dff"/><rect x="91" y="663" width="18" height="19" fill="#0037ff"/><rect x="109" y="663" width="18" height="19" fill="#004bff"/><rect x="127" y="663" width="18" height="19" fill="#0064ff"/><rect x="145" y="663" width="19" height="19" fill="#0087ff"/><rect x="164" y="663" width="18" height="19" fill="#00a0ff"/><rect x="182" y="663" width="18" height="19" fill="#00b9ff"/><rect x="200" y="663" width="18" height="19" fill="#00cdff"/><rect x="218" y="663" width="18" height="19" fill="#00e1ff"/><rect x="236" y="663" width="19" height="19" fill="#00f0ff"/><rect x="255" y="663" width="18" height="19" fill="#00faff"/><rect x="273" y="663" width="18" height="19" fill="#00fff4"/><rect x="291" y="663" width="18" height="19" fill="#00ffc7"/><rect x="309" y="663" width="18" height="19" fill="#00ffa9"/><rect x="327" y="663" width="18" height="19" fill="#00ff95"/><rect x="345" y="663" width="19" height="19" fill="#00ff81"/><rect x="364" y="663" width="18" height="19" fill="#00ff95"/><rect x="382" y="663" width="18" height="19" fill="#00fff4"/><rect x="400" y="663" width="18" height="19" fill="#00d7ff"/><rect x="418" y="663" width="18" height="19" fill="#00a5ff"/><rect x="436" y="663" width="19" height="19" fill="#0078ff"/><rect x="455" y="663" width="36" height="19" fill="#0064ff"/><rect x="491" y="663" width="18" height="19" fill="#0069ff"/><rect x="509" y="663" width="36" height="19" fill="#0073ff"/><rect x="545" y="663" width="19" height="19" fill="#0069ff"/><rect x="564" y="663" width="18" height="19" fill="#005fff"/><rect x="582" y="663" width="18" height="19" fill="#005aff"/><rect x="600" y="663" width="18" height="19" fill="#0055ff"/><rect x="618" y="663" width="18" height="19" fill="#0050ff"/><rect x="636" y="663" width="19" height="19" fill="#0064ff"/><rect x="655" y="663" width="18" height="19" fill="#0087ff"/><rect x="673" y="663" width="18" height="19" fill="#0078ff"/><rect x="691" y="663" width="18" height="19" fill="#005fff"/><rect x="709" y="663" width="36" height="19" fill="#0055ff"/><rect x="745" y="663" width="19" height="19" fill="#005aff"/><rect x="764" y="663" width="18" height="19" fill="#0055ff"/><rect x="782" y="663" width="18" height="19" fill="#004bff"/><rect x="0" y="682" width="18" height="18" fill="#0050ff"/><rect x="18" y="682" width="18" height="18" fill="#0046ff"/><rect x="36" y="682" width="19" height="18" fill="#0037ff"/><rect x="55" y="682" width="18" height="18" fill="#002dff"/><rect x="73" y="682" width="18" height="18" fill="#0028ff"/><rect x="91" y="682" width="18" height="18" fill="#0032ff"/><rect x="109" y="682" width="18" height="18" fill="#0046ff"/><rect x="127" y="682" width="18" height="18" fill="#005aff"/><rect x="145" y="682" width="19" height="18" fill="#007dff"/><rect x="164" y="682" width="18" height="18" fill="#0096ff"/><rect x="182" y="682" width="18" height="18" fill="#00aaff"/><rect x="200" y="682" width="18" height="18" fill="#00b9ff"/><rect x="218" y="682" width="18" height="18" fill="#00cdff"/><rect x="236" y="682" width="19" height="18" fill="#00dcff"/><rect x="255" y="682" width="18" height="18" fill="#00ebff"/><rect x="273" y="682" width="18" height="18" fill="#00faff"/><rect x="291" y="682" width="18" height="18" fill="#00ffef"/><rect x="309" y="682" width="18" height="18" fill="#00ffd6"/><rect x="327" y="682" width="18" height="18" fill="#00ffc7"/><rect x="345" y="682" width="37" height="18" fill="#00ffbd"/><rect x="382" y="682" width="36" height="18" fill="#00ffea"/><rect x="418" y="682" width="18" height="18" fill="#00f0ff"/><rect x="436" y="682" width="19" height="18" fill="#00b4ff"/><rect x="455" y="682" width="18" height="18" fill="#007dff"/><rect x="473" y="682" width="18" height="18" fill="#005fff"/><rect x="491" y="682" width="36" height="18" fill="#005aff"/><rect x="527" y="682" width="18" height="18" fill="#0055ff"/><rect x="545" y="682" width="19" height="18" fill="#004bff"/><rect x="564" y="682" width="36" height="18" fill="#0041ff"/><rect x="600" y="682" width="36" height="18" fill="#0046ff"/><rect x="636" y="682" width="19" height="18" fill="#0055ff"/><rect x="655" y="682" width="18" height="18" fill="#006eff"/><rect x="673" y="682" width="18" height="18" fill="#0064ff"/><rect x="691" y="682" width="18" height="18" fill="#0055ff"/><rect x="709" y="682" width="18" height="18" fill="#0050ff"/><rect x="727" y="682" width="18" height="18" fill="#0055ff"/><rect x="745" y="682" width="37" height="18" fill="#005aff"/><rect x="782" y="682" width="18" height="18" fill="#0055ff"/><rect x="0" y="700" width="18" height="18" fill="#005aff"/><rect x="18" y="700" width="18" height="18" fill="#0050ff"/><rect x="36" y="700" width="19" height="18" fill="#0041ff"/><rect x="55" y="700" width="18" height="18" fill="#0032ff"/><rect x="73" y="700" width="18" height="18" fill="#002dff"/><rect x="91" y="700" width="18" height="18" fill="#0032ff"/><rect x="109" y="700" width="18" height="18" fill="#0041ff"/><rect x="127" y="700" width="18" height="18" fill="#0050ff"/><rect x="145" y="700" width="19" height="18" fill="#0069ff"/><rect x="164" y="700" width="18" height="18" fill="#0082ff"/><rect x="182" y="700" width="18" height="18" fill="#0096ff"/><rect x="200" y="700" width="18" height="18" fill="#00a5ff"/><rect x="218" y="700" width="18" height="18" fill="#00b9ff"/><rect x="236" y="700" width="19" height="18" fill="#00c8ff"/><rect x="255" y="700" width="18" height="18" fill="#00dcff"/><rect x="273" y="700" width="18" height="18" fill="#00ebff"/><rect x="291" y="700" width="18" height="18" fill="#00faff"/><rect x="309" y="700" width="18" height="18" fill="#00fff9"/><rect x="327" y="700" width="18" height="18" fill="#00fff4"/><rect x="345" y="700" width="19" height="18" fill="#00ffef"/><rect x="364" y="700" width="18" height="18" fill="#00ffe5"/><rect x="382" y="700" width="18" height="18" fill="#00ffe0"/><rect x="400" y="700" width="18" height="18" fill="#00ff6d"/><rect x="418" y="700" width="18" height="18" fill="#00ff95"/><rect x="436" y="700" width="19" height="18" fill="#00ebff"/><rect x="455" y="700" width="18" height="18" fill="#008cff"/><rect x="473" y="700" width="18" height="18" fill="#004bff"/><rect x="491" y="700" width="18" height="18" fill="#003cff"/><rect x="509" y="700" width="18" height="18" fill="#0037ff"/><rect x="527" y="700" width="18" height="18" fill="#002dff"/><rect x="545" y="700" width="19" height="18" fill="#0028ff"/><rect x="564" y="700" width="18" height="18" fill="#002dff"/><rect x="582" y="700" width="18" height="18" fill="#003cff"/><rect x="600" y="700" width="18" height="18" fill="#0046ff"/><rect x="618" y="700" width="18" height="18" fill="#0037ff"/><rect x="636" y="700" width="19" height="18" fill="#0032ff"/><rect x="655" y="700" width="18" height="18" fill="#0046ff"/><rect x="673" y="700" width="18" height="18" fill="#0050ff"/><rect x="691" y="700" width="18" height="18" fill="#005aff"/><rect x="709" y="700" width="18" height="18" fill="#0064ff"/><rect x="727" y="700" width="18" height="18" fill="#0069ff"/><rect x="745" y="700" width="19" height="18" fill="#006eff"/><rect x="764" y="700" width="18" height="18" fill="#0073ff"/><rect x="782" y="700" width="18" height="18" fill="#007dff"/><rect x="0" y="718" width="18" height="18" fill="#0069ff"/><rect x="18" y="718" width="18" height="18" fill="#005aff"/><rect x="36" y="718" width="19" height="18" fill="#004bff"/><rect x="55" y="718" width="18" height="18" fill="#003cff"/><rect x="73" y="718" width="18" height="18" fill="#0032ff"/><rect x="91" y="718" width="18" height="18" fill="#002dff"/><rect x="109" y="718" width="18" height="18" fill="#0037ff"/><rect x="127" y="718" width="18" height="18" fill="#0046ff"/><rect x="145" y="718" width="19" height="18" fill="#005aff"/><rect x="164" y="718" width="18" height="18" fill="#006eff"/><rect x="182" y="718" width="18" height="18" fill="#0082ff"/><rect x="200" y="718" width="18" height="18" fill="#0096ff"/><rect x="218" y="718" width="18" height="18" fill="#00a5ff"/><rect x="236" y="718" width="19" height="18" fill="#00b9ff"/><rect x="255" y="718" width="18" height="18" fill="#00c8ff"/><rect x="273" y="718" width="18" height="18" fill="#00dcff"/><rect x="291" y="718" width="18" height="18" fill="#00f0ff"/><rect x="309" y="718" width="18" height="18" fill="#00faff"/><rect x="327" y="718" width="18" height="18" fill="#00ffff"/><rect x="345" y="718" width="19" height="18" fill="#00fff9"/><rect x="364" y="718" width="18" height="18" fill="#00ffef"/><rect x="382" y="718" width="18" height="18" fill="#00ffdb"/><rect x="400" y="718" width="18" height="18" fill="#00ff45"/><rect x="418" y="718" width="18" height="18" fill="#00ff1d"/><rect x="436" y="718" width="19" height="18" fill="#00ff9f"/><rect x="455" y="718" width="18" height="18" fill="#00a5ff"/><rect x="473" y="718" width="18" height="18" fill="#004bff"/><rect x="491" y="718" width="18" height="18" fill="#0028ff"/><rect x="509" y="718" width="18" height="18" fill="#0023ff"/><rect x="527" y="718" width="37" height="18" fill="#001eff"/><rect x="564" y="718" width="18" height="18" fill="#002dff"/><rect x="582" y="718" width="18" height="18" fill="#0046ff"/><rect x="600" y="718" width="18" height="18" fill="#004bff"/><rect x="618" y="718" width="18" height="18" fill="#0028ff"/><rect x="636" y="718" width="19" height="18" fill="#0014ff"/><rect x="655" y="718" width="18" height="18" fill="#0028ff"/><rect x="673" y="718" width="18" height="18" fill="#004bff"/><rect x="691" y="718" width="18" height="18" fill="#0064ff"/><rect x="709" y="718" width="55" height="18" fill="#006eff"/><rect x="764" y="718" width="18" height="18" fill="#0078ff"/><rect x="782" y="718" width="18" height="18" fill="#0082ff"/><rect x="0" y="736" width="18" height="18" fill="#0073ff"/><rect x="18" y="736" width="18" height="18" fill="#0064ff"/><rect x="36" y="736" width="19" height="18" fill="#0050ff"/><rect x="55" y="736" width="18" height="18" fill="#003cff"/><rect x="73" y="736" width="18" height="18" fill="#002dff"/><rect x="91" y="736" width="18" height="18" fill="#0019ff"/><rect x="109" y="736" width="18" height="18" fill="#0023ff"/><rect x="127" y="736" width="18" height="18" fill="#0037ff"/><rect x="145" y="736" width="19" height="18" fill="#004bff"/><rect x="164" y="736" width="18" height="18" fill="#005fff"/><rect x="182" y="736" width="18" height="18" fill="#0073ff"/><rect x="200" y="736" width="18" height="18" fill="#0082ff"/><rect x="218" y="736" width="18" height="18" fill="#0096ff"/><rect x="236" y="736" width="19" height="18" fill="#00aaff"/><rect x="255" y="736" width="18" height="18" fill="#00beff"/><rect x="273" y="736" width="18" height="18" fill="#00d2ff"/><rect x="291" y="736" width="18" height="18" fill="#00e6ff"/><rect x="309" y="736" width="18" height="18" fill="#00f5ff"/><rect x="327" y="736" width="18" height="18" fill="#00faff"/><rect x="345" y="736" width="19" height="18" fill="#00ffff"/><rect x="364" y="736" width="18" height="18" fill="#00fff4"/><rect x="382" y="736" width="18" height="18" fill="#00ffdb"/><rect x="400" y="736" width="18" height="18" fill="#00ff45"/><rect x="418" y="736" width="18" height="18" fill="#00ff0e"/><rect x="436" y="736" width="19" height="18" fill="#00ff63"/><rect x="455" y="736" width="18" height="18" fill="#00d7ff"/><rect x="473" y="736" width="18" height="18" fill="#005aff"/><rect x="491" y="736" width="18" height="18" fill="#002dff"/><rect x="509" y="736" width="18" height="18" fill="#0028ff"/><rect x="527" y="736" width="37" height="18" fill="#001eff"/><rect x="564" y="736" width="18" height="18" fill="#0032ff"/><rect x="582" y="736" width="18" height="18" fill="#0050ff"/><rect x="600" y="736" width="18" height="18" fill="#005fff"/><rect x="618" y="736" width="18" height="18" fill="#003cff"/><rect x="636" y="736" width="19" height="18" fill="#002dff"/><rect x="655" y="736" width="18" height="18" fill="#0037ff"/><rect x="673" y="736" width="18" height="18" fill="#0055ff"/><rect x="691" y="736" width="18" height="18" fill="#0069ff"/><rect x="709" y="736" width="18" height="18" fill="#006eff"/><rect x="727" y="736" width="18" height="18" fill="#0064ff"/><rect x="745" y="736" width="19" height="18" fill="#0050ff"/><rect x="764" y="736" width="18" height="18" fill="#0041ff"/><rect x="782" y="736" width="18" height="18" fill="#0032ff"/><rect x="0" y="754" width="18" height="18" fill="#0073ff"/><rect x="18" y="754" width="18" height="18" fill="#0069ff"/><rect x="36" y="754" width="19" height="18" fill="#0050ff"/><rect x="55" y="754" width="18" height="18" fill="#003cff"/><rect x="73" y="754" width="18" height="18" fill="#0028ff"/><rect x="91" y="754" width="18" height="18" fill="#0014ff"/><rect x="109" y="754" width="18" height="18" fill="#001eff"/><rect x="127" y="754" width="18" height="18" fill="#0032ff"/><rect x="145" y="754" width="19" height="18" fill="#0046ff"/><rect x="164" y="754" width="18" height="18" fill="#005aff"/><rect x="182" y="754" width="18" height="18" fill="#0069ff"/><rect x="200" y="754" width="18" height="18" fill="#0078ff"/><rect x="218" y="754" width="18" height="18" fill="#008cff"/><rect x="236" y="754" width="19" height="18" fill="#00a0ff"/><rect x="255" y="754" width="18" height="18" fill="#00b4ff"/><rect x="273" y="754" width="18" height="18" fill="#00c8ff"/><rect x="291" y="754" width="18" height="18" fill="#00e1ff"/><rect x="309" y="754" width="18" height="18" fill="#00f0ff"/><rect x="327" y="754" width="18" height="18" fill="#00faff"/><rect x="345" y="754" width="19" height="18" fill="#00ffff"/><rect x="364" y="754" width="18" height="18" fill="#00fff9"/><rect x="382" y="754" width="18" height="18" fill="#00ffe5"/><rect x="400" y="754" width="18" height="18" fill="#00ff4f"/><rect x="418" y="754" width="18" height="18" fill="#00ff1d"/><rect x="436" y="754" width="19" height="18" fill="#00ff6d"/><rect x="455" y="754" width="18" height="18" fill="#00f0ff"/><rect x="473" y="754" width="18" height="18" fill="#006eff"/><rect x="491" y="754" width="18" height="18" fill="#003cff"/><rect x="509" y="754" width="18" height="18" fill="#0032ff"/><rect x="527" y="754" width="37" height="18" fill="#0028ff"/><rect x="564" y="754" width="18" height="18" fill="#0041ff"/><rect x="582" y="754" width="18" height="18" fill="#005aff"/><rect x="600" y="754" width="18" height="18" fill="#0082ff"/><rect x="618" y="754" width="18" height="18" fill="#0078ff"/><rect x="636" y="754" width="19" height="18" fill="#0073ff"/><rect x="655" y="754" width="18" height="18" fill="#0078ff"/><rect x="673" y="754" width="18" height="18" fill="#008cff"/><rect x="691" y="754" width="18" height="18" fill="#00c3ff"/><rect x="709" y="754" width="18" height="18" fill="#00ebff"/><rect x="727" y="754" width="18" height="18" fill="#00ffea"/><rect x="745" y="754" width="19" height="18" fill="#00ffb3"/><rect x="764" y="754" width="18" height="18" fill="#00ffcc"/><rect x="782" y="754" width="18" height="18" fill="#00faff"/></g>
<path shape-rendering="crispEdges" fill="none" stroke="#fff" stroke-width="1" d="M718.2 36.1L728.4 32.4M723.3 31.9L728.4 32.4L724.8 36.0M772.7 36.1L787.2 30.8M780.0 30.2L787.2 30.8L782.1 35.9M790.9 36.1L808.7 29.6M799.8 28.8L808.7 29.6L802.4 35.9M700.0 54.3L710.0 51.1M705.1 50.5L710.0 51.1L706.4 54.4M718.2 54.3L728.2 50.3M723.2 50.0L728.2 50.3L724.8 54.0M754.5 54.3L767.8 49.5M761.2 48.9L767.8 49.5L763.1 54.2M772.7 54.3L789.5 47.8M781.1 47.3L789.5 47.8L783.6 53.9M790.9 54.3L809.7 47.1M800.3 46.5L809.7 47.1L803.1 53.9M681.8 72.5L695.0 67.4M688.4 67.0L695.0 67.4L690.4 72.2M700.0 72.5L713.8 67.1M706.8 66.7L713.8 67.1L709.0 72.1M718.2 72.5L732.7 66.2M725.3 66.0L732.7 66.2L727.7 71.8M736.4 72.5L751.4 65.8M743.7 65.7L751.4 65.8L746.3 71.6M754.5 72.5L770.7 66.1M762.6 65.6L770.7 66.1L765.1 72.0M772.7 72.5L789.9 65.2M781.2 64.9L789.9 65.2L784.0 71.7M790.9 72.5L810.0 64.6M800.3 64.2L810.0 64.6L803.4 71.8M663.6 90.6L672.6 86.7M668.0 86.6L672.6 86.7L669.6 90.1M681.8 90.6L693.2 85.5M687.3 85.4L693.2 85.5L689.4 89.9M700.0 90.6L714.0 84.2M706.8 84.2L714.0 84.2L709.3 89.7M718.2 90.6L732.5 83.3M725.0 83.6L732.5 83.3L727.9 89.3M736.4 90.6L751.8 83.6M743.8 83.5L751.8 83.6L746.6 89.6M754.5 90.6L770.7 83.6M762.4 83.4L770.7 83.6L765.2 89.8M772.7 90.6L790.2 83.3M781.3 82.9L790.2 83.3L784.2 89.9M790.9 90.6L810.5 82.5M800.5 82.1L810.5 82.5L803.8 89.9M681.8 108.8L694.9 103.5M688.3 103.2L694.9 103.5L690.4 108.4M700.0 108.8L714.3 102.3M706.9 102.2L714.3 102.3L709.5 107.9M718.2 108.8L733.2 102.2M725.5 102.0L733.2 102.2L728.1 108.0M736.4 108.8L752.3 102.6M744.3 102.1L752.3 102.6L746.7 108.4M754.5 108.8L771.4 102.5M762.9 101.9L771.4 102.5L765.4 108.6M772.7 108.8L790.6 101.7M781.6 101.2L790.6 101.7L784.4 108.3M790.9 108.8L810.9 100.9M800.8 100.3L810.9 100.9L803.9 108.3M663.6 127.0L677.8 121.9M670.8 121.3L677.8 121.9L672.8 126.9M681.8 127.0L696.5 121.3M689.1 120.8L696.5 121.3L691.4 126.7M700.0 127.0L715.3 121.1M707.6 120.6L715.3 121.1L710.0 126.6M718.2 127.0L734.0 120.9M726.0 120.3L734.0 120.9L728.5 126.6M736.4 127.0L752.7 121.0M744.5 120.3L752.7 121.0L746.9 126.8M754.5 127.0L771.4 120.3M762.9 119.8L771.4 120.3L765.5 126.5M772.7 127.0L790.8 119.8M781.7 119.3L790.8 119.8L784.6 126.5M790.9 127.0L811.5 119.1M801.1 118.4L811.5 119.1L804.3 126.5M645.5 145.2L659.2 139.7M652.2 139.3L659.2 139.7L654.4 144.8M663.6 145.2L678.3 139.5M670.9 139.0L678.3 139.5L673.2 144.9M681.8 145.2L697.1 139.2M689.4 138.7L697.1 139.2L691.8 144.8M700.0 145.2L715.8 139.0M707.8 138.5L715.8 139.0L710.3 144.8M718.2 145.2L734.3 139.0M726.2 138.4L734.3 139.0L728.7 144.8M736.4 145.2L752.8 138.8M744.6 138.3L752.8 138.8L747.1 144.8M754.5 145.2L771.8 138.4M763.1 137.9L771.8 138.4L765.8 144.7M772.7 145.2L791.2 138.1M781.9 137.4L791.2 138.1L784.7 144.8M790.9 145.2L811.7 137.1M801.2 136.4L811.7 137.1L804.5 144.7M645.5 163.4L659.0 157.5M652.0 157.3L659.0 157.5L654.4 162.7M663.6 163.4L678.5 157.3M671.0 156.9L678.5 157.3L673.4 162.8M681.8 163.4L697.4 156.7M689.5 156.4L697.4 156.7L692.1 162.6M700.0 163.4L715.8 156.8M707.8 156.5L715.8 156.8L710.4 162.7M718.2 163.4L734.4 156.8M726.2 156.4L734.4 156.8L728.8 162.8M736.4 163.4L753.2 156.7M744.7 156.2L753.2 156.7L747.3 162.9M754.5 163.4L772.0 156.5M763.2 155.9L772.0 156.5L766.0 162.9M772.7 163.4L791.3 155.9M781.9 155.4L791.3 155.9L784.9 162.8M790.9 163.4L811.7 155.2M801.2 154.6L811.7 155.2L804.5 162.8M627.3 181.6L640.0 175.5M633.4 175.5L640.0 175.5L635.8 180.6M645.5 181.6L658.7 175.0M651.7 175.2L658.7 175.0L654.4 180.4M663.6 181.6L678.3 175.0M670.7 174.9L678.3 175.0L673.4 180.7M681.8 181.6L696.8 173.6M688.9 174.0L696.8 173.6L692.0 180.0M700.0 181.6L715.6 173.8M707.4 174.0L715.6 173.8L710.5 180.2M718.2 181.6L734.6 174.6M726.2 174.3L734.6 174.6L729.0 180.8M736.4 181.6L753.5 175.0M744.9 174.4L753.5 175.0L747.5 181.2M754.5 181.6L772.3 175.1M763.5 174.3L772.3 175.1L766.0 181.4M772.7 181.6L791.8 174.4M782.2 173.7L791.8 174.4L785.1 181.2M790.9 181.6L811.3 174.0M801.1 173.2L811.3 174.0L804.1 181.3M609.1 199.7L618.8 194.2M613.6 194.7L618.8 194.2L615.8 198.5M627.3 199.7L639.2 192.8M632.7 193.4L639.2 192.8L635.5 198.1M645.5 199.7L657.8 192.2M651.0 193.0L657.8 192.2L654.0 197.9M663.6 199.7L676.6 191.4M669.4 192.4L676.6 191.4L672.7 197.5M681.8 199.7L695.6 190.8M687.9 191.9L695.6 190.8L691.5 197.3M700.0 199.7L715.2 191.5M707.1 192.0L715.2 191.5L710.3 198.0M718.2 199.7L735.1 192.5M726.5 192.2L735.1 192.5L729.3 199.0M736.4 199.7L753.9 193.3M745.1 192.6L753.9 193.3L747.7 199.5M754.5 199.7L772.7 193.4M763.7 192.5L772.7 193.4L766.2 199.7M772.7 199.7L792.4 192.7M782.6 191.8L792.4 192.7L785.4 199.6M790.9 199.7L811.7 192.6M801.4 191.5L811.7 192.6L804.3 199.8M590.9 217.9L600.6 209.5M594.8 211.2L600.6 209.5L598.1 215.0M609.1 217.9L619.8 209.3M613.5 210.8L619.8 209.3L617.0 215.1M627.3 217.9L638.9 209.4M632.3 210.7L638.9 209.4L635.7 215.3M645.5 217.9L657.8 208.7M650.7 210.2L657.8 208.7L654.4 215.1M663.6 217.9L677.7 210.8M670.3 211.0L677.7 210.8L673.1 216.6M681.8 217.9L696.9 210.1M688.9 210.4L696.9 210.1L692.0 216.4M700.0 217.9L715.6 210.3M707.5 210.4L715.6 210.3L710.5 216.7M718.2 217.9L735.3 210.8M726.6 210.4L735.3 210.8L729.4 217.2M736.4 217.9L754.3 211.7M745.4 210.8L754.3 211.7L747.9 217.9M754.5 217.9L773.0 211.6M763.9 210.7L773.0 211.6L766.4 218.0M772.7 217.9L792.6 211.5M782.9 210.3L792.6 211.5L785.4 218.2M790.9 217.9L811.3 211.3M801.3 210.1L811.3 211.3L803.9 218.2M572.7 236.1L583.6 228.8M577.5 229.7L583.6 228.8L580.4 234.1M590.9 236.1L605.6 224.8M597.1 226.7L605.6 224.8L601.6 232.6M609.1 236.1L623.9 225.2M615.4 226.9L623.9 225.2L619.8 232.8M627.3 236.1L641.8 226.5M633.7 227.7L641.8 226.5L637.5 233.5M645.5 236.1L660.4 227.7M652.4 228.3L660.4 227.7L655.7 234.2M663.6 236.1L678.9 230.1M671.2 229.6L678.9 230.1L673.6 235.7M681.8 236.1L698.2 230.6M690.1 229.7L698.2 230.6L692.3 236.2M700.0 236.1L716.7 230.0M708.4 229.3L716.7 230.0L710.8 235.9M718.2 236.1L735.9 230.3M727.2 229.3L735.9 230.3L729.5 236.3M736.4 236.1L754.8 231.2M746.0 229.6L754.8 231.2L747.9 236.9M754.5 236.1L773.3 230.9M764.3 229.4L773.3 230.9L766.4 236.9M772.7 236.1L792.3 230.7M782.9 229.1L792.3 230.7L785.1 236.9M790.9 236.1L810.6 230.0M801.0 228.7L810.6 230.0L803.4 236.5M554.5 254.3L566.6 248.2M560.2 248.4L566.6 248.2L562.6 253.2M572.7 254.3L588.9 245.6M580.3 246.1L588.9 245.6L583.7 252.5M590.9 254.3L609.3 244.3M599.5 244.9L609.3 244.3L603.4 252.2M609.1 254.3L629.2 243.5M618.5 244.1L629.2 243.5L622.8 252.1M627.3 254.3L647.1 243.4M636.5 244.1L647.1 243.4L640.8 251.9M645.5 254.3L664.9 245.3M654.8 245.2L664.9 245.3L658.4 253.0M663.6 254.3L681.5 248.8M672.8 247.6L681.5 248.8L675.0 254.7M681.8 254.3L699.3 248.3M690.7 247.3L699.3 248.3L693.1 254.3M700.0 254.3L717.9 248.9M709.2 247.7L717.9 248.9L711.3 254.8M718.2 254.3L736.4 248.5M727.5 247.4L736.4 248.5L729.8 254.6M736.4 254.3L755.0 248.9M746.0 247.5L755.0 248.9L748.1 254.9M754.5 254.3L773.4 248.4M764.2 247.2L773.4 248.4L766.6 254.7M772.7 254.3L792.0 248.6M782.7 247.2L792.0 248.6L784.9 254.9M790.9 254.3L810.0 248.2M800.7 247.0L810.0 248.2L803.1 254.6M209.1 272.5L212.2 267.4M209.9 269.0L212.2 267.4L211.9 270.2M554.5 272.5L571.1 264.6M562.5 264.6L571.1 264.6L565.6 271.2M572.7 272.5L589.5 264.0M580.7 264.3L589.5 264.0L584.0 271.0M590.9 272.5L610.1 262.8M600.0 263.1L610.1 262.8L603.8 270.7M609.1 272.5L630.0 262.0M619.0 262.3L630.0 262.0L623.2 270.6M627.3 272.5L648.5 261.8M637.3 262.2L648.5 261.8L641.6 270.6M645.5 272.5L666.6 262.7M655.6 262.6L666.6 262.7L659.5 271.0M663.6 272.5L683.3 264.5M673.3 264.0L683.3 264.5L676.5 271.8M681.8 272.5L699.7 266.1M690.8 265.3L699.7 266.1L693.3 272.4M700.0 272.5L717.8 266.9M709.1 265.7L717.8 266.9L711.3 272.8M718.2 272.5L736.2 266.7M727.4 265.6L736.2 266.7L729.7 272.7M736.4 272.5L754.7 266.8M745.8 265.6L754.7 266.8L748.0 272.9M754.5 272.5L773.0 266.1M763.9 265.1L773.0 266.1L766.4 272.5M772.7 272.5L791.1 265.2M781.9 264.7L791.1 265.2L784.7 272.0M790.9 272.5L809.4 265.5M800.2 264.8L809.4 265.5L802.9 272.2M209.1 290.6L214.6 286.0M211.3 286.9L214.6 286.0L213.2 289.0M227.3 290.6L232.6 286.9M229.6 287.4L232.6 286.9L231.1 289.5M245.5 290.6L250.8 287.5M247.9 287.8L250.8 287.5L249.2 289.9M263.6 290.6L269.1 287.7M266.2 287.8L269.1 287.7L267.4 290.0M281.8 290.6L287.7 287.8M284.6 287.8L287.7 287.8L285.8 290.2M536.4 290.6L553.3 282.6M544.5 282.6L553.3 282.6L547.7 289.4M554.5 290.6L572.2 281.8M562.9 282.0L572.2 281.8L566.5 289.1M572.7 290.6L591.5 280.8M581.5 281.3L591.5 280.8L585.5 288.7M590.9 290.6L610.7 281.0M600.4 281.2L610.7 281.0L604.2 289.0M609.1 290.6L629.6 281.1M618.9 281.1L629.6 281.1L622.7 289.2M627.3 290.6L647.8 280.9M637.1 281.0L647.8 280.9L641.0 289.1M645.5 290.6L665.5 280.6M655.0 280.9L665.5 280.6L659.0 288.9M663.6 290.6L682.2 281.1M672.4 281.5L682.2 281.1L676.2 288.9M681.8 290.6L699.4 282.8M690.3 282.7L699.4 282.8L693.4 289.6M700.0 290.6L717.3 283.7M708.6 283.2L717.3 283.7L711.3 290.1M718.2 290.6L735.7 284.2M727.0 283.5L735.7 284.2L729.5 290.4M736.4 290.6L754.1 284.4M745.3 283.6L754.1 284.4L747.8 290.6M754.5 290.6L772.3 283.7M763.4 283.1L772.3 283.7L766.1 290.2M772.7 290.6L790.5 283.0M781.4 282.7L790.5 283.0L784.5 289.8M790.9 290.6L809.1 283.5M799.9 283.0L809.1 283.5L802.7 290.2M227.3 308.8L232.6 305.1M229.6 305.6L232.6 305.1L231.1 307.7M245.5 308.8L253.0 303.6M248.7 304.3L253.0 303.6L250.8 307.3M263.6 308.8L272.3 302.9M267.4 303.7L272.3 302.9L269.8 307.1M281.8 308.8L290.8 303.5M285.9 304.0L290.8 303.5L288.1 307.5M300.0 308.8L307.1 305.3M303.4 305.4L307.1 305.3L304.7 308.2M318.2 308.8L324.4 306.8M321.4 306.4L324.4 306.8L322.2 308.9M500.0 308.8L517.2 299.0M507.9 299.8L517.2 299.0L511.8 306.6M518.2 308.8L537.8 297.6M527.2 298.5L537.8 297.6L531.7 306.3M536.4 308.8L556.8 297.6M545.9 298.3L556.8 297.6L550.3 306.5M554.5 308.8L575.1 297.5M564.1 298.3L575.1 297.5L568.6 306.4M572.7 308.8L592.8 297.3M582.0 298.2L592.8 297.3L586.5 306.2M590.9 308.8L609.6 298.2M599.5 299.0L609.6 298.2L603.7 306.4M609.1 308.8L627.6 299.0M617.8 299.5L627.6 299.0L621.6 306.9M627.3 308.8L645.8 298.6M635.9 299.3L645.8 298.6L640.0 306.6M645.5 308.8L663.7 298.7M653.9 299.4L663.7 298.7L658.0 306.6M663.6 308.8L680.0 298.7M671.0 299.8L680.0 298.7L675.0 306.3M681.8 308.8L697.7 299.7M689.1 300.4L697.7 299.7L692.8 306.7M700.0 308.8L716.2 301.0M707.7 301.1L716.2 301.0L710.8 307.5M718.2 308.8L734.7 301.9M726.3 301.6L734.7 301.9L729.1 308.1M736.4 308.8L753.0 302.0M744.5 301.6L753.0 302.0L747.2 308.2M754.5 308.8L771.7 302.5M763.1 301.8L771.7 302.5L765.6 308.6M772.7 308.8L790.1 302.4M781.4 301.7L790.1 302.4L784.0 308.6M790.9 308.8L808.6 302.4M799.8 301.6L808.6 302.4L802.3 308.6M263.6 327.0L271.1 320.6M266.7 321.9L271.1 320.6L269.2 324.8M281.8 327.0L289.6 320.4M285.0 321.7L289.6 320.4L287.6 324.8M300.0 327.0L306.7 321.3M302.7 322.4L306.7 321.3L305.0 325.0M318.2 327.0L324.0 322.2M320.5 323.1L324.0 322.2L322.5 325.4M336.4 327.0L342.5 321.6M338.8 322.7L342.5 321.6L341.0 325.1M354.5 327.0L364.1 318.5M358.4 320.2L364.1 318.5L361.7 324.0M372.7 327.0L385.0 317.7M377.9 319.2L385.0 317.7L381.6 324.1M390.9 327.0L403.8 316.8M396.3 318.6L403.8 316.8L400.3 323.7M409.1 327.0L422.5 316.6M414.7 318.4L422.5 316.6L418.9 323.7M427.3 327.0L441.4 317.1M433.4 318.5L441.4 317.1L437.3 324.1M445.5 327.0L460.6 317.4M452.2 318.5L460.6 317.4L456.1 324.5M463.6 327.0L480.0 317.0M471.1 318.0L480.0 317.0L475.0 324.5M481.8 327.0L500.0 316.2M490.1 317.2L500.0 316.2L494.4 324.4M500.0 327.0L519.1 316.1M508.8 316.9L519.1 316.1L513.1 324.5M518.2 327.0L538.3 315.5M527.4 316.4L538.3 315.5L532.0 324.4M536.4 327.0L556.5 315.5M545.6 316.4L556.5 315.5L550.2 324.4M554.5 327.0L574.0 315.5M563.4 316.5L574.0 315.5L568.0 324.2M572.7 327.0L590.9 315.7M580.9 316.9L590.9 315.7L585.4 324.1M590.9 327.0L607.6 316.4M598.4 317.6L607.6 316.4L602.6 324.2M609.1 327.0L625.3 316.7M616.4 317.9L625.3 316.7L620.5 324.3M627.3 327.0L643.9 316.3M634.7 317.6L643.9 316.3L639.0 324.2M645.5 327.0L662.7 317.4M653.5 318.1L662.7 317.4L657.3 324.9M663.6 327.0L680.7 318.4M671.7 318.7L680.7 318.4L675.1 325.4M681.8 327.0L698.5 319.3M689.9 319.3L698.5 319.3L692.9 325.9M700.0 327.0L716.4 320.4M708.1 320.0L716.4 320.4L710.7 326.5M718.2 327.0L734.2 320.9M726.1 320.3L734.2 320.9L728.6 326.7M736.4 327.0L752.3 321.1M744.3 320.5L752.3 321.1L746.7 326.8M754.5 327.0L770.6 321.2M762.6 320.5L770.6 321.2L764.9 326.9M772.7 327.0L789.2 321.0M781.0 320.3L789.2 321.0L783.4 326.8M790.9 327.0L808.2 320.7M799.6 320.0L808.2 320.7L802.1 326.8M300.0 345.2L306.6 337.0M302.2 339.2L306.6 337.0L305.4 341.8M318.2 345.2L325.1 335.6M320.2 338.3L325.1 335.6L324.0 341.1M336.4 345.2L344.7 335.4M339.2 337.9L344.7 335.4L343.1 341.2M354.5 345.2L364.8 335.0M358.4 337.3L364.8 335.0L362.5 341.4M372.7 345.2L385.1 335.4M377.9 337.1L385.1 335.4L381.8 342.0M390.9 345.2L404.0 334.8M396.4 336.6L404.0 334.8L400.5 341.8M409.1 345.2L422.0 335.1M414.5 336.8L422.0 335.1L418.5 342.0M427.3 345.2L441.3 335.5M433.4 336.8L441.3 335.5L437.3 342.4M445.5 345.2L460.8 335.8M452.4 336.8L460.8 335.8L456.1 342.8M463.6 345.2L479.9 335.4M471.0 336.4L479.9 335.4L474.9 342.8M481.8 345.2L499.5 334.6M489.9 335.6L499.5 334.6L494.1 342.6M500.0 345.2L518.6 334.5M508.6 335.4L518.6 334.5L512.8 342.8M518.2 345.2L538.9 334.2M527.9 334.8L538.9 334.2L532.2 343.0M536.4 345.2L556.4 333.3M545.5 334.4L556.4 333.3L550.2 342.3M554.5 345.2L573.5 333.4M563.1 334.6L573.5 333.4L567.8 342.2M572.7 345.2L589.5 333.7M580.1 335.2L589.5 333.7L584.6 341.9M590.9 345.2L605.9 333.6M597.2 335.6L605.9 333.6L601.8 341.5M609.1 345.2L624.7 333.1M615.7 335.1L624.7 333.1L620.5 341.3M627.3 345.2L644.5 333.4M634.8 335.0L644.5 333.4L639.5 341.8M645.5 345.2L663.9 335.4M654.1 335.9L663.9 335.4L658.0 343.2M663.6 345.2L682.5 337.5M672.9 337.0L682.5 337.5L676.0 344.5M681.8 345.2L699.9 338.7M690.9 337.9L699.9 338.7L693.5 345.0M700.0 345.2L716.8 339.7M708.6 338.7L716.8 339.7L710.7 345.4M718.2 345.2L733.7 340.0M726.1 339.1L733.7 340.0L728.1 345.3M736.4 345.2L751.3 340.2M744.0 339.4L751.3 340.2L745.9 345.3M754.5 345.2L769.8 340.1M762.3 339.2L769.8 340.1L764.3 345.3M772.7 345.2L788.5 339.5M780.6 338.8L788.5 339.5L782.9 345.0M790.9 345.2L807.5 339.2M799.3 338.4L807.5 339.2L801.6 345.0M300.0 363.4L307.8 354.1M302.6 356.5L307.8 354.1L306.3 359.6M318.2 363.4L326.7 353.4M321.1 355.9L326.7 353.4L325.1 359.3M336.4 363.4L345.9 353.0M339.8 355.5L345.9 353.0L343.9 359.3M354.5 363.4L365.5 352.5M358.7 355.0L365.5 352.5L363.0 359.3M372.7 363.4L385.1 352.5M377.7 354.7L385.1 352.5L382.0 359.6M390.9 363.4L403.5 351.8M395.9 354.2L403.5 351.8L400.5 359.3M409.1 363.4L422.2 352.2M414.4 354.3L422.2 352.2L418.9 359.6M427.3 363.4L441.9 353.0M433.6 354.5L441.9 353.0L437.7 360.3M445.5 363.4L462.0 354.1M453.1 354.8L462.0 354.1L456.8 361.3M463.6 363.4L481.3 354.6M472.1 354.8L481.3 354.6L475.6 361.8M481.8 363.4L500.7 355.2M491.0 354.9L500.7 355.2L494.3 362.4M500.0 363.4L518.8 353.7M508.9 354.1L518.8 353.7L512.7 361.5M518.2 363.4L539.0 353.2M528.1 353.4L539.0 353.2L532.1 361.7M536.4 363.4L555.9 351.9M545.3 352.9L555.9 351.9L549.8 360.7M554.5 363.4L572.0 352.3M562.4 353.6L572.0 352.3L566.7 360.5M572.7 363.4L588.7 352.7M579.8 354.1L588.7 352.7L584.0 360.4M590.9 363.4L606.4 352.9M597.7 354.3L606.4 352.9L601.9 360.5M609.1 363.4L626.2 352.4M616.7 353.7L626.2 352.4L621.1 360.5M627.3 363.4L645.9 352.2M635.8 353.3L645.9 352.2L640.2 360.7M645.5 363.4L665.1 353.5M654.8 353.8L665.1 353.5L658.7 361.6M663.6 363.4L683.1 355.1M673.2 354.8L683.1 355.1L676.5 362.5M681.8 363.4L700.2 356.1M690.9 355.5L700.2 356.1L693.8 362.9M700.0 363.4L716.4 357.5M708.2 356.8L716.4 357.5L710.6 363.3M718.2 363.4L732.5 358.7M725.5 357.9L732.5 358.7L727.3 363.6M736.4 363.4L749.9 359.2M743.3 358.3L749.9 359.2L744.9 363.7M754.5 363.4L768.7 359.2M761.8 358.2L768.7 359.2L763.5 363.8M772.7 363.4L787.4 357.7M780.0 357.2L787.4 357.7L782.3 363.0M790.9 363.4L806.9 357.7M799.0 356.9L806.9 357.7L801.2 363.3M281.8 381.6L289.6 374.5M284.9 376.0L289.6 374.5L287.7 379.1M300.0 381.6L309.2 371.7M303.3 374.1L309.2 371.7L307.2 377.7M318.2 381.6L328.3 371.3M322.0 373.6L328.3 371.3L326.0 377.7M336.4 381.6L347.2 370.6M340.4 373.1L347.2 370.6L344.8 377.4M354.5 381.6L366.0 369.8M358.8 372.5L366.0 369.8L363.4 377.1M372.7 381.6L384.7 369.0M377.1 371.9L384.7 369.0L382.1 376.7M390.9 381.6L403.8 368.1M395.6 371.3L403.8 368.1L401.0 376.4M409.1 381.6L424.0 367.7M414.9 370.6L424.0 367.7L420.4 376.5M427.3 381.6L443.1 367.1M433.5 370.1L443.1 367.1L439.3 376.4M445.5 381.6L462.9 367.3M452.7 369.9L462.9 367.3L458.3 376.8M463.6 381.6L482.2 368.7M471.8 370.5L482.2 368.7L476.9 377.9M481.8 381.6L501.1 371.5M490.9 371.9L501.1 371.5L494.9 379.6M500.0 381.6L518.8 371.7M508.8 372.2L518.8 371.7L512.7 379.6M518.2 381.6L537.9 373.1M527.8 372.8L537.9 373.1L531.2 380.6M536.4 381.6L555.4 372.3M545.5 372.5L555.4 372.3L549.1 380.0M554.5 381.6L572.2 372.6M562.9 372.9L572.2 372.6L566.4 379.9M572.7 381.6L589.3 372.4M580.4 373.0L589.3 372.4L584.1 379.6M590.9 381.6L607.2 372.5M598.5 373.1L607.2 372.5L602.1 379.6M609.1 381.6L627.3 371.9M617.6 372.4L627.3 371.9L621.5 379.6M627.3 381.6L647.0 371.7M636.6 372.0L647.0 371.7L640.5 379.8M645.5 381.6L665.7 372.1M655.2 372.1L665.7 372.1L658.9 380.1M663.6 381.6L683.3 372.9M673.2 372.7L683.3 372.9L676.6 380.5M681.8 381.6L700.5 374.2M691.1 373.6L700.5 374.2L694.0 381.1M700.0 381.6L716.5 377.0M708.6 375.7L716.5 377.0L710.4 382.2M718.2 381.6L731.8 378.0M725.3 376.8L731.8 378.0L726.7 382.2M736.4 381.6L748.7 378.1M742.7 377.1L748.7 378.1L744.1 382.0M754.5 381.6L767.5 378.0M761.3 377.0L767.5 378.0L762.7 382.1M772.7 381.6L786.9 377.3M780.0 376.3L786.9 377.3L781.7 381.9M790.9 381.6L806.3 377.0M798.9 375.9L806.3 377.0L800.7 382.0M281.8 399.7L290.6 391.8M285.3 393.4L290.6 391.8L288.4 396.9M300.0 399.7L309.9 390.6M303.8 392.5L309.9 390.6L307.5 396.4M318.2 399.7L328.7 389.4M322.2 391.7L328.7 389.4L326.3 395.9M336.4 399.7L347.9 389.0M340.8 391.3L347.9 389.0L345.1 395.8M354.5 399.7L366.4 387.6M358.9 390.4L366.4 387.6L363.8 395.1M372.7 399.7L385.4 386.3M377.3 389.5L385.4 386.3L382.7 394.5M390.9 399.7L404.9 385.0M396.0 388.5L404.9 385.0L401.9 394.0M409.1 399.7L424.3 383.8M414.7 387.6L424.3 383.8L421.0 393.6M427.3 399.7L443.5 383.2M433.3 387.0L443.5 383.2L439.9 393.5M445.5 399.7L463.0 383.4M452.3 386.9L463.0 383.4L458.8 393.9M463.6 399.7L481.7 384.3M470.9 387.3L481.7 384.3L477.0 394.5M481.8 399.7L500.0 387.3M489.8 389.0L500.0 387.3L494.7 396.2M500.0 399.7L517.1 390.3M507.9 390.9L517.1 390.3L511.7 397.7M518.2 399.7L534.3 390.3M525.5 391.1L534.3 390.3L529.3 397.5M536.4 399.7L552.9 390.5M544.0 391.2L552.9 390.5L547.7 397.7M554.5 399.7L572.1 391.2M562.9 391.4L572.1 391.2L566.3 398.3M572.7 399.7L590.3 391.4M581.2 391.4L590.3 391.4L584.5 398.4M590.9 399.7L608.3 391.6M599.3 391.6L608.3 391.6L602.5 398.5M609.1 399.7L627.9 391.3M618.2 391.2L627.9 391.3L621.6 398.6M627.3 399.7L646.9 391.0M636.8 390.8L646.9 391.0L640.3 398.6M645.5 399.7L665.2 391.2M655.1 390.9L665.2 391.2L658.5 398.7M663.6 399.7L682.9 391.6M673.1 391.3L682.9 391.6L676.3 398.9M681.8 399.7L699.7 392.8M690.7 392.2L699.7 392.8L693.5 399.3M700.0 399.7L715.9 395.9M708.4 394.3L715.9 395.9L709.9 400.7M718.2 399.7L731.3 396.9M725.2 395.5L731.3 396.9L726.3 400.7M736.4 399.7L747.9 397.2M742.5 396.0L747.9 397.2L743.5 400.6M754.5 399.7L766.7 397.2M761.0 395.8L766.7 397.2L762.1 400.7M772.7 399.7L786.4 396.3M779.9 395.0L786.4 396.3L781.3 400.5M790.9 399.7L805.9 396.0M798.7 394.6L805.9 396.0L800.2 400.5M300.0 417.9L309.2 409.6M303.6 411.3L309.2 409.6L307.0 415.0M318.2 417.9L328.2 408.9M322.1 410.8L328.2 408.9L325.7 414.7M336.4 417.9L348.2 407.7M341.1 409.7L348.2 407.7L345.2 414.4M354.5 417.9L367.1 405.9M359.3 408.5L367.1 405.9L364.1 413.5M372.7 417.9L386.2 403.8M377.7 407.1L386.2 403.8L383.3 412.5M390.9 417.9L406.3 401.8M396.6 405.6L406.3 401.8L403.0 411.7M409.1 417.9L425.0 401.5M414.9 405.3L425.0 401.5L421.5 411.6M427.3 417.9L444.3 401.2M433.7 404.9L444.3 401.2L440.4 411.7M445.5 417.9L463.1 401.6M452.3 405.1L463.1 401.6L458.8 412.0M463.6 417.9L482.1 403.3M471.3 405.8L482.1 403.3L477.1 413.2M481.8 417.9L500.3 406.0M490.1 407.4L500.3 406.0L494.8 414.7M500.0 417.9L516.7 406.7M507.3 408.2L516.7 406.7L511.8 414.8M518.2 417.9L532.5 406.2M524.1 408.3L532.5 406.2L528.7 414.0M536.4 417.9L552.1 406.9M543.2 408.4L552.1 406.9L547.6 414.7M554.5 417.9L572.1 408.2M562.7 408.8L572.1 408.2L566.5 415.8M572.7 417.9L591.1 409.3M581.6 409.3L591.1 409.3L585.0 416.6M590.9 417.9L609.8 411.1M600.4 410.2L609.8 411.1L603.1 417.7M609.1 417.9L628.4 411.0M618.8 410.1L628.4 411.0L621.5 417.8M627.3 417.9L646.7 410.2M636.9 409.6L646.7 410.2L640.0 417.3M645.5 417.9L664.8 410.1M655.0 409.6L664.8 410.1L658.1 417.3M663.6 417.9L682.5 410.4M673.0 409.8L682.5 410.4L676.0 417.4M681.8 417.9L698.8 411.8M690.4 411.0L698.8 411.8L692.8 417.8M700.0 417.9L714.8 413.7M707.7 412.5L714.8 413.7L709.4 418.4M718.2 417.9L730.0 415.1M724.4 414.0L730.0 415.1L725.5 418.6M736.4 417.9L746.6 415.4M741.7 414.4L746.6 415.4L742.7 418.5M754.5 417.9L765.7 415.3M760.4 414.2L765.7 415.3L761.5 418.6M772.7 417.9L785.3 414.0M779.1 413.2L785.3 414.0L780.7 418.2M790.9 417.9L805.1 413.9M798.3 412.8L805.1 413.9L799.9 418.4M336.4 436.1L348.7 425.8M341.4 427.8L348.7 425.8L345.5 432.7M354.5 436.1L368.3 424.0M360.1 426.4L368.3 424.0L364.9 431.9M372.7 436.1L387.0 422.0M378.1 425.2L387.0 422.0L383.7 430.9M390.9 436.1L407.0 420.8M397.1 424.1L407.0 420.8L403.2 430.5M409.1 436.1L426.2 420.0M415.7 423.5L426.2 420.0L422.1 430.3M427.3 436.1L444.9 419.8M434.1 423.2L444.9 419.8L440.6 430.2M445.5 436.1L463.9 420.7M453.0 423.6L463.9 420.7L459.1 430.9M463.6 436.1L482.3 422.1M471.6 424.4L482.3 422.1L477.1 431.8M481.8 436.1L500.0 423.7M489.8 425.4L500.0 423.7L494.7 432.6M500.0 436.1L516.9 424.2M507.3 425.9L516.9 424.2L512.0 432.6M518.2 436.1L533.5 423.2M524.4 425.6L533.5 423.2L529.6 431.7M536.4 436.1L552.8 423.7M543.4 425.7L552.8 423.7L548.3 432.3M554.5 436.1L572.4 425.2M562.6 426.3L572.4 425.2L566.9 433.4M572.7 436.1L591.5 426.8M581.6 427.1L591.5 426.8L585.3 434.5M590.9 436.1L610.3 429.8M600.8 428.6L610.3 429.8L603.3 436.3M609.1 436.1L628.2 430.1M618.9 428.9L628.2 430.1L621.3 436.5M627.3 436.1L646.5 429.4M637.0 428.5L646.5 429.4L639.6 436.1M645.5 436.1L664.7 428.7M655.1 428.0L664.7 428.7L658.0 435.7M663.6 436.1L682.0 428.8M672.7 428.3L682.0 428.8L675.6 435.6M681.8 436.1L698.1 430.0M689.9 429.4L698.1 430.0L692.4 435.8M700.0 436.1L713.6 432.3M707.1 431.2L713.6 432.3L708.6 436.6M718.2 436.1L728.4 433.5M723.5 432.6L728.4 433.5L724.5 436.6M736.4 436.1L744.9 433.7M740.8 433.0L744.9 433.7L741.7 436.4M754.5 436.1L764.1 433.7M759.5 432.8L764.1 433.7L760.5 436.6M772.7 436.1L783.7 432.7M778.3 432.0L783.7 432.7L779.7 436.3M790.9 436.1L803.5 432.4M797.4 431.5L803.5 432.4L798.9 436.5M336.4 454.3L349.4 442.8M341.6 445.1L349.4 442.8L346.1 450.3M354.5 454.3L368.9 441.1M360.2 443.9L368.9 441.1L365.4 449.6M372.7 454.3L388.6 439.6M378.9 442.7L388.6 439.6L384.7 449.0M390.9 454.3L407.8 438.7M397.5 442.0L407.8 438.7L403.7 448.7M409.1 454.3L427.7 439.1M416.8 441.9L427.7 439.1L422.8 449.3M427.3 454.3L446.3 439.4M435.2 441.9L446.3 439.4L441.1 449.5M445.5 454.3L464.2 440.5M453.5 442.6L464.2 440.5L459.0 450.1M463.6 454.3L482.0 441.1M471.5 443.1L482.0 441.1L476.8 450.3M481.8 454.3L500.1 442.0M489.8 443.6L500.1 442.0L494.7 450.8M500.0 454.3L518.3 442.0M508.1 443.6L518.3 442.0L512.9 450.9M518.2 454.3L536.6 441.7M526.2 443.4L536.6 441.7L531.3 450.7M536.4 454.3L555.4 441.6M544.8 443.2L555.4 441.6L549.8 450.8M554.5 454.3L573.8 442.0M563.2 443.4L573.8 442.0L568.1 451.0M572.7 454.3L592.2 443.9M581.8 444.5L592.2 443.9L585.9 452.2M590.9 454.3L609.5 447.7M600.3 446.8L609.5 447.7L602.9 454.2M609.1 454.3L627.4 448.6M618.5 447.4L627.4 448.6L620.8 454.7M627.3 454.3L646.1 448.3M636.9 447.1L646.1 448.3L639.3 454.6M645.5 454.3L664.5 447.1M655.0 446.4L664.5 447.1L657.8 454.0M663.6 454.3L681.3 447.2M672.4 446.7L681.3 447.2L675.2 453.7M681.8 454.3L697.1 448.3M689.4 447.8L697.1 448.3L691.8 453.9M700.0 454.3L712.3 450.7M706.3 449.8L712.3 450.7L707.8 454.7M718.2 454.3L727.2 452.4M723.0 451.4L727.2 452.4L723.7 455.0M736.4 454.3L743.4 452.7M740.1 452.0L743.4 452.7L740.7 454.8M754.5 454.3L762.3 452.7M758.7 451.9L762.3 452.7L759.3 454.9M772.7 454.3L782.0 452.0M777.6 451.2L782.0 452.0L778.5 454.8M790.9 454.3L801.8 451.7M796.6 450.7L801.8 451.7L797.6 455.0M336.4 472.5L350.8 458.7M341.9 461.7L350.8 458.7L347.4 467.4M354.5 472.5L370.4 457.4M360.7 460.7L370.4 457.4L366.6 467.0M372.7 472.5L390.3 457.4M379.8 460.3L390.3 457.4L385.8 467.3M390.9 472.5L410.2 457.9M399.1 460.3L410.2 457.9L404.9 467.9M409.1 472.5L429.2 458.9M418.0 460.7L429.2 458.9L423.3 468.7M427.3 472.5L448.2 460.7M436.9 461.5L448.2 460.7L441.6 469.8M445.5 472.5L466.3 461.8M455.3 462.2L466.3 461.8L459.6 470.5M463.6 472.5L484.9 462.8M473.9 462.7L484.9 462.8L477.7 471.2M481.8 472.5L503.2 463.3M492.3 463.0L503.2 463.3L495.9 471.5M500.0 472.5L521.8 463.9M510.8 463.2L521.8 463.9L514.2 471.9M518.2 472.5L540.5 464.4M529.4 463.4L540.5 464.4L532.6 472.3M536.4 472.5L558.0 462.1M546.8 462.2L558.0 462.1L550.9 470.8M554.5 472.5L576.6 462.9M565.3 462.6L576.6 462.9L569.1 471.4M572.7 472.5L593.1 462.8M582.5 462.8L593.1 462.8L586.4 471.0M590.9 472.5L608.6 466.5M599.9 465.5L608.6 466.5L602.2 472.5M609.1 472.5L626.0 467.2M617.7 466.1L626.0 467.2L619.8 472.8M627.3 472.5L644.9 467.8M636.5 466.3L644.9 467.8L638.3 473.3M645.5 472.5L662.8 465.7M654.1 465.1L662.8 465.7L656.8 472.0M663.6 472.5L679.7 465.1M671.4 465.0L679.7 465.1L674.3 471.4M681.8 472.5L695.5 466.9M688.6 466.6L695.5 466.9L690.8 472.0M700.0 472.5L710.9 468.9M705.6 468.2L710.9 468.9L707.0 472.6M718.2 472.5L726.2 470.6M722.4 469.8L726.2 470.6L723.1 473.0M736.4 472.5L742.5 471.5M739.7 470.7L742.5 471.5L740.1 473.1M754.5 472.5L761.0 471.5M758.1 470.6L761.0 471.5L758.5 473.2M772.7 472.5L779.9 471.7M776.7 470.6L779.9 471.7L777.0 473.4M790.9 472.5L799.4 471.3M795.5 470.1L799.4 471.3L796.0 473.5M318.2 490.6L333.1 476.8M324.0 479.7L333.1 476.8L329.5 485.7M336.4 490.6L352.8 474.8M342.7 478.3L352.8 474.8L349.0 484.8M354.5 490.6L371.8 474.3M361.2 477.9L371.8 474.3L367.7 484.7M372.7 490.6L390.2 473.8M379.4 477.5L390.2 473.8L386.1 484.4M390.9 490.6L410.0 475.1M398.8 478.0L410.0 475.1L404.9 485.5M409.1 490.6L428.9 476.1M417.5 478.4L428.9 476.1L423.3 486.2M427.3 490.6L448.0 479.1M436.9 479.9L448.0 479.1L441.5 488.1M445.5 490.6L466.0 480.6M455.3 480.8L466.0 480.6L459.2 489.0M463.6 490.6L484.3 482.3M473.9 481.8L484.3 482.3L477.2 490.0M481.8 490.6L502.9 482.5M492.3 481.8L502.9 482.5L495.5 490.1M500.0 490.6L521.8 482.9M511.0 481.9L521.8 482.9L514.1 490.6M518.2 490.6L541.0 483.1M529.7 481.8L541.0 483.1L532.8 490.8M536.4 490.6L559.1 482.4M547.8 481.4L559.1 482.4L551.0 490.4M554.5 490.6L575.9 479.7M564.6 480.1L575.9 479.7L569.0 488.6M572.7 490.6L592.0 479.3M581.5 480.3L592.0 479.3L586.0 488.0M590.9 490.6L607.4 484.8M599.2 484.0L607.4 484.8L601.6 490.6M609.1 490.6L625.1 487.2M617.6 485.5L625.1 487.2L619.0 491.9M627.3 490.6L643.7 486.2M635.8 484.9L643.7 486.2L637.6 491.4M645.5 490.6L661.1 483.7M653.1 483.6L661.1 483.7L655.8 489.8M663.6 490.6L677.5 483.2M670.1 483.6L677.5 483.2L673.1 489.1M681.8 490.6L693.4 485.3M687.4 485.3L693.4 485.3L689.6 489.9M700.0 490.6L708.8 487.1M704.4 486.9L708.8 487.1L705.8 490.4M718.2 490.6L724.8 488.9M721.6 488.3L724.8 488.9L722.4 490.9M736.4 490.6L741.7 489.1M739.1 488.7L741.7 489.1L739.7 490.8M754.5 490.6L760.0 489.4M757.4 488.9L760.0 489.4L757.9 491.0M772.7 490.6L778.9 489.9M776.1 489.0L778.9 489.9L776.4 491.5M790.9 490.6L797.8 490.0M794.7 488.9L797.8 490.0L795.0 491.6M300.0 508.8L313.8 494.6M305.1 497.9L313.8 494.6L310.7 503.4M318.2 508.8L332.8 492.7M323.4 496.7L332.8 492.7L329.8 502.5M336.4 508.8L352.1 491.1M341.9 495.5L352.1 491.1L348.9 501.8M354.5 508.8L369.6 489.9M359.4 494.9L369.6 489.9L367.0 500.9M372.7 508.8L387.9 489.7M377.6 494.8L387.9 489.7L385.2 500.9M390.9 508.8L407.1 490.4M396.5 495.0L407.1 490.4L403.9 501.4M409.1 508.8L426.8 492.0M415.9 495.6L426.8 492.0L422.6 502.7M427.3 508.8L446.5 494.9M435.5 497.0L446.5 494.9L441.1 504.6M445.5 508.8L465.6 499.3M455.2 499.4L465.6 499.3L458.9 507.4M463.6 508.8L483.6 501.7M473.7 500.8L483.6 501.7L476.5 508.7M481.8 508.8L502.4 502.7M492.4 501.2L502.4 502.7L494.8 509.4M500.0 508.8L521.2 502.7M510.9 501.1L521.2 502.7L513.4 509.5M518.2 508.8L540.1 502.1M529.4 500.6L540.1 502.1L532.1 509.3M536.4 508.8L558.4 501.7M547.6 500.4L558.4 501.7L550.4 509.1M554.5 508.8L574.4 498.1M563.8 498.7L574.4 498.1L568.1 506.6M572.7 508.8L590.0 499.2M580.7 499.9L590.0 499.2L584.6 506.7M590.9 508.8L605.5 502.9M598.1 502.5L605.5 502.9L600.5 508.3M609.1 508.8L623.0 504.9M616.3 503.8L623.0 504.9L617.8 509.4M627.3 508.8L641.2 503.0M634.1 502.7L641.2 503.0L636.4 508.2M645.5 508.8L658.7 500.9M651.5 501.7L658.7 500.9L654.6 506.9M663.6 508.8L675.9 501.8M669.3 502.4L675.9 501.8L672.1 507.2M681.8 508.8L691.9 504.0M686.7 504.1L691.9 504.0L688.6 508.1M700.0 508.8L707.6 505.8M703.8 505.6L707.6 505.8L705.0 508.6M718.2 508.8L723.8 507.0M721.1 506.7L723.8 507.0L721.8 508.9M736.4 508.8L741.0 507.2M738.7 507.0L741.0 507.2L739.4 508.8M754.5 508.8L759.3 507.5M757.0 507.1L759.3 507.5L757.5 509.0M772.7 508.8L778.7 507.0M775.8 506.6L778.7 507.0L776.5 509.0M790.9 508.8L798.1 506.6M794.6 506.1L798.1 506.6L795.5 509.0M281.8 527.0L295.3 512.2M286.6 515.8L295.3 512.2L292.5 521.2M300.0 527.0L312.9 509.9M304.0 514.6L312.9 509.9L310.8 519.7M318.2 527.0L332.1 508.5M322.5 513.6L332.1 508.5L329.8 519.1M336.4 527.0L350.6 507.7M340.7 513.1L350.6 507.7L348.4 518.8M354.5 527.0L367.9 507.1M358.3 512.9L367.9 507.1L366.2 518.2M372.7 527.0L385.1 506.1M375.7 512.6L385.1 506.1L384.0 517.5M390.9 527.0L404.3 506.6M394.5 512.6L404.3 506.6L402.6 517.9M409.1 527.0L423.4 507.6M413.5 513.0L423.4 507.6L421.2 518.7M427.3 527.0L443.4 510.0M433.1 514.0L443.4 510.0L439.9 520.4M445.5 527.0L463.2 514.0M453.1 516.0L463.2 514.0L458.2 523.1M463.6 527.0L481.4 518.3M472.1 518.5L481.4 518.3L475.6 525.6M481.8 527.0L500.7 521.2M491.5 519.9L500.7 521.2L493.8 527.4M500.0 527.0L519.2 521.3M509.9 519.9L519.2 521.3L512.2 527.6M518.2 527.0L538.1 520.6M528.3 519.4L538.1 520.6L530.9 527.3M536.4 527.0L555.1 517.8M545.3 518.0L555.1 517.8L549.0 525.4M554.5 527.0L570.6 516.4M561.6 517.7L570.6 516.4L565.8 524.1M572.7 527.0L585.7 518.0M578.4 519.3L585.7 518.0L581.9 524.4M590.9 527.0L600.5 520.1M595.1 521.2L600.5 520.1L597.8 525.0M609.1 527.0L618.6 519.5M613.1 520.8L618.6 519.5L616.1 524.6M627.3 527.0L637.7 519.0M631.6 520.3L637.7 519.0L634.8 524.5M645.5 527.0L655.6 518.7M649.6 520.2L655.6 518.7L652.9 524.2M663.6 527.0L673.2 520.1M667.7 521.1L673.2 520.1L670.5 524.9M681.8 527.0L689.3 522.2M685.2 522.8L689.3 522.2L687.1 525.8M700.0 527.0L705.5 524.1M702.6 524.2L705.5 524.1L703.7 526.4M718.2 527.0L722.3 524.9M720.1 525.0L722.3 524.9L720.9 526.6M736.4 527.0L740.4 524.9M738.3 525.0L740.4 524.9L739.1 526.6M754.5 527.0L759.4 523.1M756.6 523.8L759.4 523.1L758.1 525.7M772.7 527.0L778.9 521.1M775.1 522.4L778.9 521.1L777.4 524.9M790.9 527.0L797.6 519.8M793.3 521.5L797.6 519.8L796.2 524.2M263.6 545.2L275.9 530.8M267.8 534.5L275.9 530.8L273.6 539.4M281.8 545.2L294.4 528.9M285.8 533.3L294.4 528.9L292.3 538.3M300.0 545.2L312.7 526.8M303.6 532.1L312.7 526.8L310.9 537.2M318.2 545.2L330.2 524.9M321.1 531.2L330.2 524.9L329.1 535.9M336.4 545.2L348.0 524.2M338.9 530.8L348.0 524.2L347.2 535.5M354.5 545.2L365.7 523.9M356.7 530.8L365.7 523.9L365.2 535.2M372.7 545.2L382.5 523.6M374.1 530.8L382.5 523.6L382.6 534.7M390.9 545.2L401.0 523.7M392.5 530.9L401.0 523.7L401.0 534.9M409.1 545.2L420.2 524.2M411.3 531.0L420.2 524.2L419.6 535.4M427.3 545.2L439.2 525.3M430.1 531.4L439.2 525.3L438.0 536.1M445.5 545.2L457.2 527.2M448.6 532.5L457.2 527.2L455.8 537.2M463.6 545.2L475.9 532.9M468.2 535.7L475.9 532.9L473.1 540.6M481.8 545.2L495.7 536.4M488.0 537.4L495.7 536.4L491.5 542.9M500.0 545.2L514.0 537.3M506.5 537.9L514.0 537.3L509.6 543.4M518.2 545.2L531.3 537.1M524.1 538.0L531.3 537.1L527.3 543.2M536.4 545.2L547.7 535.7M541.0 537.5L547.7 535.7L544.7 542.0M554.5 545.2L563.1 535.6M557.5 538.0L563.1 535.6L561.3 541.4M572.7 545.2L579.1 537.3M574.8 539.4L579.1 537.3L578.0 541.9M590.9 545.2L596.5 538.8M592.9 540.4L596.5 538.8L595.4 542.6M609.1 545.2L615.8 536.7M611.3 539.0L615.8 536.7L614.6 541.7M627.3 545.2L634.1 535.5M629.3 538.3L634.1 535.5L633.1 541.0M645.5 545.2L652.0 536.2M647.4 538.7L652.0 536.2L651.0 541.3M663.6 545.2L670.0 537.6M665.8 539.6L670.0 537.6L668.8 542.1M681.8 545.2L686.7 540.8M683.8 541.7L686.7 540.8L685.5 543.7M700.0 545.2L703.6 542.3M701.5 542.8L703.6 542.3L702.6 544.2M718.2 545.2L721.2 542.7M719.4 543.1L721.2 542.7L720.4 544.3M736.4 545.2L739.8 542.2M737.8 542.8L739.8 542.2L739.0 544.2M754.5 545.2L759.0 540.4M756.1 541.5L759.0 540.4L758.1 543.3M772.7 545.2L777.0 538.2M773.8 540.3L777.0 538.2L776.6 542.0M790.9 545.2L795.2 537.1M791.8 539.7L795.2 537.1L795.0 541.4M245.5 563.4L257.5 548.9M249.5 552.7L257.5 548.9L255.2 557.5M263.6 563.4L275.8 547.4M267.4 551.8L275.8 547.4L273.8 556.6M281.8 563.4L294.4 544.9M285.4 550.3L294.4 544.9L292.7 555.3M300.0 563.4L311.3 542.8M302.4 549.3L311.3 542.8L310.6 553.8M318.2 563.4L328.5 541.9M319.8 549.0L328.5 541.9L328.4 553.1M336.4 563.4L344.5 540.9M336.6 548.9L344.5 540.9L345.5 552.1M354.5 563.4L362.0 541.0M354.4 549.1L362.0 541.0L363.3 552.0M372.7 563.4L378.9 541.0M371.8 549.3L378.9 541.0L380.7 551.8M390.9 563.4L397.5 541.8M390.4 549.7L397.5 541.8L399.0 552.3M409.1 563.4L415.9 541.8M408.7 549.7L415.9 541.8L417.3 552.4M427.3 563.4L433.4 542.8M426.7 550.3L433.4 542.8L434.9 552.8M445.5 563.4L450.3 544.8M444.6 551.7L450.3 544.8L451.9 553.7M463.6 563.4L467.9 550.3M463.5 555.0L467.9 550.3L468.7 556.7M481.8 563.4L485.6 553.6M482.0 557.0L485.6 553.6L485.9 558.5M500.0 563.4L503.7 555.0M500.5 557.8L503.7 555.0L503.8 559.3M518.2 563.4L520.5 555.8M518.0 558.6L520.5 555.8L521.0 559.5M536.4 563.4L538.4 556.5M536.2 559.0L538.4 556.5L538.9 559.8M554.5 563.4L557.2 556.3M554.7 558.8L557.2 556.3L557.5 559.9M572.7 563.4L576.6 555.8M573.4 558.2L576.6 555.8L576.4 559.8M590.9 563.4L594.6 555.3M591.4 558.0L594.6 555.3L594.6 559.5M609.1 563.4L612.8 554.2M609.4 557.4L612.8 554.2L613.0 558.9M627.3 563.4L630.2 554.0M627.1 557.4L630.2 554.0L630.8 558.5M645.5 563.4L646.9 554.3M644.5 557.9L646.9 554.3L648.1 558.5M663.6 563.4L665.2 556.0M663.1 558.8L665.2 556.0L666.0 559.4M681.8 563.4L683.0 558.6M681.5 560.4L683.0 558.6L683.4 560.8M700.0 563.4L701.4 560.1M700.2 561.2L701.4 560.1L701.5 561.8M718.2 563.4L719.7 560.8M718.5 561.6L719.7 560.8L719.5 562.2M736.4 563.4L737.1 561.5M736.4 562.2L737.1 561.5L737.1 562.5M754.5 563.4L754.8 560.1M754.1 561.4L754.8 560.1L755.4 561.6M772.7 563.4L773.8 558.2M772.3 560.2L773.8 558.2L774.4 560.6M790.9 563.4L792.8 557.1M790.8 559.4L792.8 557.1L793.2 560.1M209.1 581.6L218.3 569.6M212.0 572.8L218.3 569.6L216.7 576.5M227.3 581.6L238.1 566.7M230.5 570.9L238.1 566.7L236.4 575.2M245.5 581.6L256.3 564.7M248.3 569.7L256.3 564.7L255.0 574.0M263.6 581.6L273.5 562.8M265.5 568.8L273.5 562.8L273.0 572.7M281.8 581.6L290.7 560.8M282.8 567.9L290.7 560.8L291.1 571.4M300.0 581.6L308.0 559.8M300.3 567.5L308.0 559.8L308.9 570.7M318.2 581.6L325.6 559.3M318.0 567.3L325.6 559.3L326.8 570.3M336.4 581.6L342.2 558.9M335.2 567.4L342.2 558.9L344.2 569.7M354.5 581.6L360.0 559.1M353.2 567.6L360.0 559.1L362.2 569.7M372.7 581.6L377.9 559.8M371.4 568.1L377.9 559.8L380.0 570.1M390.9 581.6L395.9 560.7M389.6 568.6L395.9 560.7L397.9 570.5M409.1 581.6L413.1 561.6M407.5 569.3L413.1 561.6L415.4 570.9M427.3 581.6L429.7 562.8M424.9 570.3L429.7 562.8L432.4 571.3M445.5 581.6L446.9 565.2M443.0 571.9L446.9 565.2L449.5 572.4M463.6 581.6L463.6 569.1M461.1 574.4L463.6 569.1L466.1 574.4M481.8 581.6L480.8 571.8M479.3 576.1L480.8 571.8L483.2 575.7M500.0 581.6L498.9 573.1M497.7 576.9L498.9 573.1L501.1 576.5M518.2 581.6L517.9 574.3M516.6 577.5L517.9 574.3L519.4 577.4M536.4 581.6L536.7 574.3M535.1 577.3L536.7 574.3L538.0 577.5M554.5 581.6L556.7 573.7M554.2 576.6L556.7 573.7L557.4 577.5M572.7 581.6L575.2 572.7M572.4 576.0L575.2 572.7L575.9 577.0M590.9 581.6L592.8 571.9M590.1 575.6L592.8 571.9L593.9 576.4M609.1 581.6L609.5 571.7M607.4 575.8L609.5 571.7L611.3 576.0M627.3 581.6L626.7 571.7M625.0 576.0L626.7 571.7L628.9 575.8M645.5 581.6L643.9 572.5M642.8 576.7L643.9 572.5L646.4 576.0M663.6 581.6L663.8 574.3M662.3 577.4L663.8 574.3L665.1 577.4M681.8 581.6L682.1 576.3M680.9 578.5L682.1 576.3L683.0 578.6M700.0 581.6L700.8 578.0M699.7 579.4L700.8 578.0L701.1 579.7M718.2 581.6L718.3 580.9M718.1 581.2L718.3 580.9L718.4 581.2M736.4 581.6L736.4 580.2M736.1 580.8L736.4 580.2L736.7 580.8M754.5 581.6L754.0 578.0M753.5 579.6L754.0 578.0L755.0 579.4M772.7 581.6L773.7 576.4M772.2 578.4L773.7 576.4L774.3 578.8M790.9 581.6L792.7 575.3M790.7 577.6L792.7 575.3L793.2 578.3M136.4 599.7L142.4 592.8M138.4 594.5L142.4 592.8L141.2 596.9M154.5 599.7L160.6 592.0M156.5 594.1L160.6 592.0L159.6 596.5M172.7 599.7L179.1 590.6M174.6 593.2L179.1 590.6L178.2 595.8M190.9 599.7L198.3 589.7M193.2 592.5L198.3 589.7L197.1 595.4M209.1 599.7L217.9 586.6M211.5 590.5L217.9 586.6L216.7 594.0M227.3 599.7L236.5 583.5M229.4 588.6L236.5 583.5L235.8 592.3M245.5 599.7L255.7 581.7M247.7 587.3L255.7 581.7L254.9 591.4M263.6 599.7L272.5 580.2M264.9 586.8L272.5 580.2L272.6 590.3M281.8 599.7L289.7 578.7M282.2 586.1L289.7 578.7L290.5 589.2M300.0 599.7L306.9 577.9M299.6 585.8L306.9 577.9L308.3 588.6M318.2 599.7L324.1 577.4M317.1 585.7L324.1 577.4L326.0 588.1M336.4 599.7L341.9 577.3M335.1 585.7L341.9 577.3L344.0 587.9M354.5 599.7L359.4 577.4M352.9 585.9L359.4 577.4L361.8 587.9M372.7 599.7L376.9 578.7M370.9 586.8L376.9 578.7L379.3 588.5M390.9 599.7L394.0 579.9M388.8 587.7L394.0 579.9L396.6 589.0M409.1 599.7L411.2 581.2M406.6 588.7L411.2 581.2L414.0 589.5M427.3 599.7L428.5 582.4M424.5 589.5L428.5 582.4L431.4 590.0M445.5 599.7L445.6 585.0M442.6 591.2L445.6 585.0L448.5 591.3M463.6 599.7L461.8 588.1M460.3 593.4L461.8 588.1L464.9 592.7M481.8 599.7L479.4 590.2M478.6 594.7L479.4 590.2L482.4 593.8M500.0 599.7L498.2 591.1M497.2 595.1L498.2 591.1L500.7 594.4M518.2 599.7L517.4 592.2M516.2 595.6L517.4 592.2L519.2 595.3M536.4 599.7L536.6 591.9M535.0 595.2L536.6 591.9L538.1 595.3M554.5 599.7L556.3 591.4M553.9 594.6L556.3 591.4L557.2 595.3M572.7 599.7L575.3 590.2M572.3 593.8L575.3 590.2L576.1 594.8M590.9 599.7L592.8 589.4M590.0 593.4L592.8 589.4L594.1 594.2M609.1 599.7L608.7 589.9M606.9 594.2L608.7 589.9L610.8 594.0M627.3 599.7L625.9 590.0M624.5 594.4L625.9 590.0L628.4 593.9M645.5 599.7L643.3 590.8M642.5 595.0L643.3 590.8L646.0 594.2M663.6 599.7L663.7 592.5M662.2 595.6L663.7 592.5L665.1 595.6M681.8 599.7L682.0 594.8M681.0 596.9L682.0 594.8L682.9 597.0M700.0 599.7L701.1 597.0M700.1 597.9L701.1 597.0L701.2 598.4M718.2 599.7L718.3 599.4M718.2 599.5L718.3 599.4L718.3 599.6M736.4 599.7L736.7 597.8M736.2 598.6L736.7 597.8L736.9 598.7M754.5 599.7L754.7 595.8M753.9 597.4L754.7 595.8L755.4 597.5M772.7 599.7L774.2 594.7M772.5 596.6L774.2 594.7L774.6 597.1M790.9 599.7L793.4 593.7M791.1 595.8L793.4 593.7L793.5 596.7M27.3 617.9L29.4 619.5M28.8 618.4L29.4 619.5L28.2 619.2M45.5 617.9L48.2 619.0M47.2 618.0L48.2 619.0L46.8 619.1M63.6 617.9L66.7 616.7M65.1 616.6L66.7 616.7L65.6 617.8M81.8 617.9L85.2 615.8M83.3 616.1L85.2 615.8L84.2 617.4M100.0 617.9L103.9 614.5M101.6 615.1L103.9 614.5L103.0 616.7M118.2 617.9L123.2 612.8M120.1 614.0L123.2 612.8L122.1 616.0M136.4 617.9L142.3 610.9M138.4 612.7L142.3 610.9L141.2 615.1M154.5 617.9L160.6 609.4M156.3 611.8L160.6 609.4L159.7 614.2M172.7 617.9L179.0 608.3M174.4 611.1L179.0 608.3L178.2 613.6M190.9 617.9L198.3 607.1M193.0 610.2L198.3 607.1L197.3 613.2M209.1 617.9L217.7 604.0M211.3 608.2L217.7 604.0L216.8 611.6M227.3 617.9L236.1 601.5M229.1 606.7L236.1 601.5L235.6 610.2M245.5 617.9L254.6 599.3M247.0 605.4L254.6 599.3L254.4 609.0M263.6 617.9L272.0 598.4M264.6 605.1L272.0 598.4L272.3 608.4M281.8 617.9L289.4 597.5M282.1 604.7L289.4 597.5L290.2 607.7M300.0 617.9L307.0 596.7M299.8 604.4L307.0 596.7L308.2 607.1M318.2 617.9L324.5 595.9M317.5 604.0L324.5 595.9L326.2 606.6M336.4 617.9L342.2 594.9M335.1 603.6L342.2 594.9L344.3 605.9M354.5 617.9L359.6 594.7M352.8 603.6L359.6 594.7L362.0 605.6M372.7 617.9L376.5 596.8M370.7 605.0L376.5 596.8L379.1 606.5M390.9 617.9L392.8 601.3M388.7 608.0L392.8 601.3L395.3 608.7M409.1 617.9L409.8 603.5M406.7 609.5L409.8 603.5L412.4 609.8M427.3 617.9L427.8 605.5M425.1 610.7L427.8 605.5L430.1 610.9M445.5 617.9L446.2 606.3M443.6 611.1L446.2 606.3L448.2 611.4M463.6 617.9L462.3 607.6M460.8 612.3L462.3 607.6L464.9 611.8M481.8 617.9L480.3 608.5M479.1 612.8L480.3 608.5L482.8 612.2M500.0 617.9L498.7 608.8M497.4 613.0L498.7 608.8L501.0 612.4M518.2 617.9L517.9 609.4M516.3 613.1L517.9 609.4L519.7 613.0M536.4 617.9L538.3 609.3M535.8 612.6L538.3 609.3L539.2 613.3M554.5 617.9L557.4 609.2M554.5 612.3L557.4 609.2L557.9 613.5M572.7 617.9L576.3 608.8M573.0 611.9L576.3 608.8L576.6 613.4M590.9 617.9L594.2 608.0M590.8 611.5L594.2 608.0L594.8 612.9M609.1 617.9L609.8 607.4M607.4 611.8L609.8 607.4L611.6 612.1M627.3 617.9L627.8 607.4M625.5 611.8L627.8 607.4L629.7 612.0M645.5 617.9L646.1 608.1M643.9 612.2L646.1 608.1L647.8 612.4M663.6 617.9L664.4 610.1M662.5 613.3L664.4 610.1L665.6 613.6M681.8 617.9L682.6 612.4M681.2 614.6L682.6 612.4L683.4 614.9M700.0 617.9L700.9 614.4M699.8 615.7L700.9 614.4L701.2 616.1M718.2 617.9L718.7 616.0M718.1 616.7L718.7 616.0L718.8 616.9M736.4 617.9L736.9 615.0M736.1 616.1L736.9 615.0L737.3 616.4M754.5 617.9L755.7 613.8M754.4 615.3L755.7 613.8L756.0 615.8M772.7 617.9L774.9 613.1M773.0 614.7L774.9 613.1L774.9 615.6M790.9 617.9L793.8 612.4M791.5 614.2L793.8 612.4L793.7 615.3M9.1 636.1L11.6 638.2M11.0 636.8L11.6 638.2L10.1 637.8M27.3 636.1L29.5 638.0M29.0 636.7L29.5 638.0L28.2 637.6M45.5 636.1L48.2 637.7M47.3 636.5L48.2 637.7L46.7 637.6M63.6 636.1L66.8 634.8M65.2 634.7L66.8 634.8L65.7 636.0M81.8 636.1L85.3 634.3M83.5 634.4L85.3 634.3L84.2 635.7M100.0 636.1L103.6 633.3M101.5 633.8L103.6 633.3L102.6 635.2M118.2 636.1L122.1 631.7M119.6 632.8L122.1 631.7L121.3 634.4M136.4 636.1L141.4 630.0M138.0 631.6L141.4 630.0L140.4 633.6M154.5 636.1L160.1 628.0M156.1 630.3L160.1 628.0L159.3 632.5M172.7 636.1L178.9 626.4M174.4 629.3L178.9 626.4L178.2 631.8M190.9 636.1L197.7 624.5M192.5 628.1L197.7 624.5L197.1 630.8M209.1 636.1L216.8 622.4M210.8 626.7L216.8 622.4L216.2 629.8M227.3 636.1L235.2 620.6M228.7 625.6L235.2 620.6L234.9 628.8M245.5 636.1L253.7 619.1M246.8 624.7L253.7 619.1L253.6 628.0M263.6 636.1L271.5 618.3M264.6 624.3L271.5 618.3L271.7 627.4M281.8 636.1L289.3 617.2M282.4 623.8L289.3 617.2L289.9 626.7M300.0 636.1L306.7 616.6M300.0 623.6L306.7 616.6L307.7 626.2M318.2 636.1L324.7 615.7M317.9 623.1L324.7 615.7L326.0 625.7M336.4 636.1L342.7 613.8M335.6 622.1L342.7 613.8L344.4 624.6M354.5 636.1L360.1 613.2M353.2 621.8L360.1 613.2L362.3 624.1M372.7 636.1L376.5 614.7M370.6 623.1L376.5 614.7L379.1 624.6M390.9 636.1L392.5 619.8M388.6 626.4L392.5 619.8L395.0 627.0M409.1 636.1L409.7 623.3M406.9 628.6L409.7 623.3L412.0 628.9M427.3 636.1L427.8 625.3M425.5 629.8L427.8 625.3L429.7 630.0M445.5 636.1L447.0 626.4M444.4 630.2L447.0 626.4L448.3 630.8M463.6 636.1L464.4 627.6M462.4 631.1L464.4 627.6L465.8 631.4M481.8 636.1L482.6 627.9M480.6 631.3L482.6 627.9L483.9 631.6M500.0 636.1L500.8 627.9M498.9 631.2L500.8 627.9L502.1 631.6M518.2 636.1L520.5 627.9M517.9 630.9L520.5 627.9L521.2 631.9M536.4 636.1L540.3 628.2M537.1 630.8L540.3 628.2L540.2 632.3M554.5 636.1L559.2 628.2M555.7 630.6L559.2 628.2L558.8 632.5M572.7 636.1L577.9 627.7M574.0 630.3L577.9 627.7L577.3 632.3M590.9 636.1L594.5 626.6M591.1 629.9L594.5 626.6L594.9 631.3M609.1 636.1L611.7 626.6M608.7 630.1L611.7 626.6L612.5 631.2M627.3 636.1L630.7 626.9M627.4 630.1L630.7 626.9L631.1 631.5M645.5 636.1L648.8 627.2M645.6 630.3L648.8 627.2L649.2 631.7M663.6 636.1L666.0 627.5M663.3 630.7L666.0 627.5L666.7 631.7M681.8 636.1L682.2 628.9M680.6 631.9L682.2 628.9L683.5 632.0M700.0 636.1L700.2 630.9M699.1 633.1L700.2 630.9L701.1 633.1M718.2 636.1L718.4 631.5M717.4 633.4L718.4 631.5L719.2 633.5M736.4 636.1L738.0 631.8M736.4 633.3L738.0 631.8L738.2 634.0M754.5 636.1L757.3 631.6M755.3 633.0L757.3 631.6L757.0 634.1M772.7 636.1L776.2 631.7M773.8 632.9L776.2 631.7L775.6 634.3M790.9 636.1L794.6 631.5M792.1 632.7L794.6 631.5L793.9 634.2M9.1 654.3L12.1 656.8M11.3 655.1L12.1 656.8L10.3 656.3M27.3 654.3L29.8 656.4M29.1 655.0L29.8 656.4L28.3 656.0M45.5 654.3L48.3 656.0M47.4 654.7L48.3 656.0L46.7 655.8M63.6 654.3L66.7 653.2M65.2 653.1L66.7 653.2L65.6 654.3M81.8 654.3L84.9 653.0M83.3 653.0L84.9 653.0L83.8 654.2M100.0 654.3L102.8 651.6M101.1 652.2L102.8 651.6L102.2 653.3M118.2 654.3L121.3 650.1M119.1 651.2L121.3 650.1L120.8 652.5M136.4 654.3L140.2 648.5M137.4 650.2L140.2 648.5L139.7 651.7M154.5 654.3L159.5 646.2M155.8 648.6L159.5 646.2L159.0 650.6M172.7 654.3L178.8 645.0M174.4 647.7L178.8 645.0L178.1 650.1M190.9 654.3L197.5 642.9M192.4 646.5L197.5 642.9L196.9 649.1M209.1 654.3L215.9 641.2M210.4 645.4L215.9 641.2L215.6 648.1M227.3 654.3L234.3 639.8M228.4 644.6L234.3 639.8L234.2 647.4M245.5 654.3L252.9 639.0M246.7 644.1L252.9 639.0L252.8 647.0M263.6 654.3L270.3 638.1M264.3 643.7L270.3 638.1L270.7 646.3M281.8 654.3L288.4 637.1M282.2 643.1L288.4 637.1L289.0 645.7M300.0 654.3L306.1 635.5M299.8 642.3L306.1 635.5L307.3 644.7M318.2 654.3L324.5 634.4M317.9 641.6L324.5 634.4L325.8 644.1M336.4 654.3L342.4 633.1M335.6 640.9L342.4 633.1L344.0 643.3M354.5 654.3L359.9 632.3M353.2 640.6L359.9 632.3L362.0 642.7M372.7 654.3L376.3 633.4M370.7 641.6L376.3 633.4L378.9 643.0M390.9 654.3L392.2 637.9M388.4 644.6L392.2 637.9L394.9 645.2M409.1 654.3L409.7 641.5M406.9 646.8L409.7 641.5L412.0 647.1M427.3 654.3L427.9 644.5M425.7 648.5L427.9 644.5L429.6 648.8M445.5 654.3L448.6 646.7M445.8 649.3L448.6 646.7L448.8 650.6M463.6 654.3L466.6 647.7M464.1 649.9L466.6 647.7L466.7 651.1M481.8 654.3L485.3 648.3M482.6 650.2L485.3 648.3L485.0 651.5M500.0 654.3L503.3 647.9M500.6 649.9L503.3 647.9L503.2 651.3M518.2 654.3L522.2 647.2M519.1 649.4L522.2 647.2L521.9 651.0M536.4 654.3L541.1 647.2M537.7 649.3L541.1 647.2L540.5 651.1M554.5 654.3L559.5 647.4M556.0 649.3L559.5 647.4L558.8 651.3M572.7 654.3L577.0 646.9M573.7 649.2L577.0 646.9L576.6 650.9M590.9 654.3L593.6 646.2M590.9 649.1L593.6 646.2L594.1 650.2M609.1 654.3L609.7 646.4M607.9 649.7L609.7 646.4L611.0 649.9M627.3 654.3L629.1 646.6M626.8 649.5L629.1 646.6L629.8 650.2M645.5 654.3L648.8 646.4M645.8 649.1L648.8 646.4L648.9 650.5M663.6 654.3L667.4 645.2M664.0 648.3L667.4 645.2L667.6 649.8M681.8 654.3L683.9 646.4M681.5 649.3L683.9 646.4L684.6 650.2M700.0 654.3L700.2 648.4M698.9 650.9L700.2 648.4L701.3 650.9M718.2 654.3L718.4 649.0M717.3 651.2L718.4 649.0L719.4 651.3M736.4 654.3L738.6 649.5M736.7 651.1L738.6 649.5L738.6 652.0M754.5 654.3L757.8 649.8M755.5 651.0L757.8 649.8L757.3 652.3M772.7 654.3L776.2 649.9M773.9 651.1L776.2 649.9L775.6 652.5M790.9 654.3L794.5 650.4M792.2 651.4L794.5 650.4L793.7 652.8M9.1 672.5L12.4 675.7M11.6 673.7L12.4 675.7L10.3 675.0M27.3 672.5L30.1 675.2M29.4 673.5L30.1 675.2L28.3 674.6M45.5 672.5L48.3 674.4M47.5 673.0L48.3 674.4L46.7 674.1M63.6 672.5L66.6 671.5M65.1 671.3L66.6 671.5L65.5 672.5M81.8 672.5L84.5 671.3M83.2 671.3L84.5 671.3L83.6 672.4M100.0 672.5L102.6 670.0M101.0 670.5L102.6 670.0L102.0 671.5M118.2 672.5L121.5 668.9M119.4 669.7L121.5 668.9L120.8 671.1M136.4 672.5L139.5 666.7M137.0 668.5L139.5 666.7L139.3 669.8M154.5 672.5L158.8 664.7M155.4 667.2L158.8 664.7L158.5 668.8M172.7 672.5L178.2 663.5M174.1 666.2L178.2 663.5L177.7 668.4M190.9 672.5L196.9 661.9M192.3 665.2L196.9 661.9L196.5 667.6M209.1 672.5L215.0 660.4M210.1 664.4L215.0 660.4L214.9 666.7M227.3 672.5L233.2 658.9M228.0 663.5L233.2 658.9L233.4 665.9M245.5 672.5L251.4 657.9M246.0 662.9L251.4 657.9L251.8 665.3M263.6 672.5L269.4 657.1M263.9 662.5L269.4 657.1L270.0 664.8M281.8 672.5L286.8 656.1M281.4 662.1L286.8 656.1L287.9 664.1M300.0 672.5L305.4 654.9M299.6 661.3L305.4 654.9L306.6 663.4M318.2 672.5L323.5 654.0M317.5 660.8L323.5 654.0L324.9 662.9M336.4 672.5L341.4 653.3M335.5 660.5L341.4 653.3L343.1 662.5M354.5 672.5L359.0 652.6M353.2 660.2L359.0 652.6L361.1 662.0M372.7 672.5L375.8 652.9M370.6 660.6L375.8 652.9L378.4 661.9M390.9 672.5L392.2 655.4M388.3 662.4L392.2 655.4L395.0 662.9M409.1 672.5L409.5 658.4M406.5 664.3L409.5 658.4L412.1 664.5M427.3 672.5L427.9 661.7M425.5 666.1L427.9 661.7L429.8 666.4M445.5 672.5L449.5 665.7M446.4 667.8L449.5 665.7L449.1 669.4M463.6 672.5L468.0 667.6M465.2 668.8L468.0 667.6L467.1 670.5M481.8 672.5L486.3 667.7M483.4 668.8L486.3 667.7L485.3 670.6M500.0 672.5L504.5 667.2M501.5 668.6L504.5 667.2L503.6 670.3M518.2 672.5L523.3 667.0M520.1 668.3L523.3 667.0L522.2 670.3M536.4 672.5L541.5 667.0M538.2 668.3L541.5 667.0L540.4 670.3M554.5 672.5L559.2 667.4M556.2 668.6L559.2 667.4L558.2 670.5M572.7 672.5L576.5 667.5M573.9 668.9L576.5 667.5L575.9 670.4M590.9 672.5L592.9 666.9M591.0 668.9L592.9 666.9L593.2 669.7M609.1 672.5L609.8 666.9M608.4 669.1L609.8 666.9L610.6 669.4M627.3 672.5L630.7 668.5M628.4 669.5L630.7 668.5L630.0 670.8M645.5 672.5L649.8 667.6M647.0 668.8L649.8 667.6L648.9 670.5M663.6 672.5L668.8 665.3M665.2 667.3L668.8 665.3L668.0 669.4M681.8 672.5L684.2 665.0M681.7 667.7L684.2 665.0L684.7 668.6M700.0 672.5L700.2 666.2M698.9 668.8L700.2 666.2L701.4 668.9M718.2 672.5L718.4 666.9M717.2 669.2L718.4 666.9L719.4 669.3M736.4 672.5L738.3 667.2M736.4 669.1L738.3 667.2L738.5 669.8M754.5 672.5L756.9 667.1M754.8 668.9L756.9 667.1L757.0 669.8M772.7 672.5L775.7 667.8M773.5 669.2L775.7 667.8L775.4 670.4M790.9 672.5L793.0 668.0M791.2 669.5L793.0 668.0L793.0 670.3M9.1 690.6L12.8 694.4M12.0 692.0L12.8 694.4L10.5 693.5M27.3 690.6L30.5 693.9M29.8 691.9L30.5 693.9L28.5 693.2M45.5 690.6L48.4 692.7M47.6 691.2L48.4 692.7L46.7 692.4M63.6 690.6L66.4 689.7M65.0 689.5L66.4 689.7L65.4 690.6M81.8 690.6L84.2 689.6M83.0 689.6L84.2 689.6L83.4 690.5M100.0 690.6L102.4 688.4M100.9 688.9L102.4 688.4L101.8 689.8M118.2 690.6L120.8 686.9M119.0 688.0L120.8 686.9L120.4 689.0M136.4 690.6L139.1 685.4M136.9 687.1L139.1 685.4L139.0 688.2M154.5 690.6L158.3 683.4M155.3 685.7L158.3 683.4L158.2 687.2M172.7 690.6L177.7 682.1M173.9 684.8L177.7 682.1L177.3 686.7M190.9 690.6L196.2 680.8M192.0 684.0L196.2 680.8L195.9 686.1M209.1 690.6L214.4 679.7M210.0 683.3L214.4 679.7L214.3 685.5M227.3 690.6L232.1 678.1M227.6 682.5L232.1 678.1L232.6 684.4M245.5 690.6L250.5 677.1M245.6 681.9L250.5 677.1L251.0 683.9M263.6 690.6L268.0 675.9M263.2 681.3L268.0 675.9L269.1 683.0M281.8 690.6L286.8 675.0M281.6 680.7L286.8 675.0L287.8 682.7M300.0 690.6L304.7 674.0M299.4 680.2L304.7 674.0L306.0 682.0M318.2 690.6L322.5 673.2M317.2 679.8L322.5 673.2L324.1 681.5M336.4 690.6L340.7 672.8M335.3 679.5L340.7 672.8L342.4 681.2M354.5 690.6L358.3 672.4M353.1 679.4L358.3 672.4L360.3 680.9M372.7 690.6L375.3 672.2M370.5 679.5L375.3 672.2L377.9 680.5M390.9 690.6L392.1 673.3M388.2 680.4L392.1 673.3L395.1 680.9M409.1 690.6L409.3 673.3M405.8 680.6L409.3 673.3L412.7 680.7M427.3 690.6L427.8 674.9M424.4 681.5L427.8 674.9L430.7 681.7M445.5 690.6L450.0 679.7M445.9 683.5L450.0 679.7L450.2 685.3M463.6 690.6L469.8 685.3M466.1 686.3L469.8 685.3L468.3 688.8M481.8 690.6L486.9 687.0M484.0 687.6L486.9 687.0L485.5 689.6M500.0 690.6L504.5 686.9M501.9 687.6L504.5 686.9L503.4 689.4M518.2 690.6L522.7 686.8M520.0 687.6L522.7 686.8L521.5 689.4M536.4 690.6L540.3 686.7M537.8 687.6L540.3 686.7L539.4 689.2M554.5 690.6L558.1 687.2M555.9 688.0L558.1 687.2L557.3 689.4M572.7 690.6L575.5 687.4M573.7 688.2L575.5 687.4L575.0 689.3M590.9 690.6L593.7 687.4M591.8 688.2L593.7 687.4L593.1 689.3M609.1 690.6L612.5 687.6M610.5 688.2L612.5 687.6L611.7 689.6M627.3 690.6L630.7 687.6M628.6 688.2L630.7 687.6L629.8 689.6M645.5 690.6L649.6 686.9M647.1 687.7L649.6 686.9L648.6 689.3M663.6 690.6L668.2 685.1M665.2 686.5L668.2 685.1L667.4 688.3M681.8 690.6L683.7 684.4M681.7 686.7L683.7 684.4L684.1 687.4M700.0 690.6L700.1 685.1M699.0 687.4L700.1 685.1L701.2 687.5M718.2 690.6L718.3 685.4M717.2 687.6L718.3 685.4L719.3 687.7M736.4 690.6L737.7 685.2M736.0 687.3L737.7 685.2L738.2 687.8M754.5 690.6L756.4 685.1M754.5 687.1L756.4 685.1L756.7 687.8M772.7 690.6L775.4 685.4M773.2 687.1L775.4 685.4L775.3 688.1M790.9 690.6L793.2 685.6M791.2 687.3L793.2 685.6L793.2 688.2M9.1 708.8L12.9 713.3M12.2 710.7L12.9 713.3L10.4 712.2M27.3 708.8L30.7 712.8M30.0 710.4L30.7 712.8L28.4 711.8M45.5 708.8L48.8 711.5M47.9 709.7L48.8 711.5L46.9 711.0M63.6 708.8L66.6 707.5M65.1 707.5L66.6 707.5L65.6 708.7M81.8 708.8L84.3 707.2M82.9 707.4L84.3 707.2L83.6 708.4M100.0 708.8L102.6 706.9M101.1 707.2L102.6 706.9L101.9 708.2M118.2 708.8L120.8 705.4M119.0 706.4L120.8 705.4L120.3 707.4M136.4 708.8L139.0 704.3M137.0 705.7L139.0 704.3L138.8 706.7M154.5 708.8L157.3 702.5M154.9 704.7L157.3 702.5L157.4 705.8M172.7 708.8L176.2 701.0M173.2 703.7L176.2 701.0L176.3 705.1M190.9 708.8L195.2 700.0M191.6 702.9L195.2 700.0L195.1 704.6M209.1 708.8L212.9 698.7M209.2 702.3L212.9 698.7L213.3 703.7M227.3 708.8L231.0 697.3M227.1 701.5L231.0 697.3L231.7 703.0M245.5 708.8L248.5 696.1M244.7 700.9L248.5 696.1L249.8 702.1M263.6 708.8L266.8 694.7M262.6 700.1L266.8 694.7L268.2 701.4M281.8 708.8L285.9 694.0M281.2 699.5L285.9 694.0L287.1 701.1M300.0 708.8L303.7 692.8M298.9 698.9L303.7 692.8L305.3 700.4M318.2 708.8L321.4 692.2M316.7 698.6L321.4 692.2L323.4 699.9M336.4 708.8L339.3 692.0M334.7 698.6L339.3 692.0L341.4 699.7M354.5 708.8L356.9 691.7M352.5 698.5L356.9 691.7L359.3 699.5M372.7 708.8L374.5 691.4M370.3 698.5L374.5 691.4L377.2 699.2M390.9 708.8L391.8 691.2M387.9 698.5L391.8 691.2L394.9 698.9M409.1 708.8L408.9 687.9M404.8 696.9L408.9 687.9L413.1 696.8M427.3 708.8L426.6 689.1M423.0 697.6L426.6 689.1L430.8 697.3M445.5 708.8L445.9 693.4M442.7 699.9L445.9 693.4L448.8 700.1M463.6 708.8L465.0 699.7M462.6 703.3L465.0 699.7L466.2 703.9M481.8 708.8L484.9 705.0M482.8 706.0L484.9 705.0L484.3 707.2M500.0 708.8L501.6 705.2M500.2 706.4L501.6 705.2L501.6 707.1M518.2 708.8L518.2 705.2M517.5 706.7L518.2 705.2L518.9 706.8M536.4 708.8L535.6 706.0M535.4 707.3L535.6 706.0L536.5 707.0M554.5 708.8L553.4 706.4M553.4 707.7L553.4 706.4L554.4 707.2M572.7 708.8L572.9 705.9M572.2 707.1L572.9 705.9L573.4 707.2M590.9 708.8L591.8 705.0M590.7 706.4L591.8 705.0L592.2 706.8M609.1 708.8L610.7 704.5M609.1 706.0L610.7 704.5L610.9 706.7M627.3 708.8L628.5 705.4M627.3 706.6L628.5 705.4L628.7 707.1M645.5 708.8L646.4 705.7M645.3 706.8L646.4 705.7L646.6 707.2M663.6 708.8L663.9 704.2M662.9 706.1L663.9 704.2L664.7 706.2M681.8 708.8L681.8 703.6M680.8 705.8L681.8 703.6L682.9 705.8M700.0 708.8L700.0 702.9M698.8 705.4L700.0 702.9L701.1 705.4M718.2 708.8L718.3 702.3M716.9 705.0L718.3 702.3L719.5 705.1M736.4 708.8L737.7 702.1M735.8 704.7L737.7 702.1L738.4 705.2M754.5 708.8L757.2 702.1M754.7 704.4L757.2 702.1L757.4 705.5M772.7 708.8L776.1 702.1M773.3 704.3L776.1 702.1L776.0 705.6M790.9 708.8L795.7 702.1M792.3 704.0L795.7 702.1L795.0 705.9M9.1 727.0L13.3 732.5M12.6 729.3L13.3 732.5L10.4 731.0M27.3 727.0L30.9 731.7M30.3 729.0L30.9 731.7L28.4 730.4M45.5 727.0L49.2 730.2M48.2 728.1L49.2 730.2L47.0 729.6M63.6 727.0L67.3 725.4M65.4 725.4L67.3 725.4L66.0 726.8M81.8 727.0L84.7 725.4M83.2 725.5L84.7 725.4L83.8 726.7M100.0 727.0L102.2 725.1M100.9 725.4L102.2 725.1L101.7 726.3M118.2 727.0L120.2 724.0M118.7 724.9L120.2 724.0L119.9 725.7M136.4 727.0L137.4 722.5M136.1 724.2L137.4 722.5L137.9 724.7M154.5 727.0L156.7 721.5M154.7 723.4L156.7 721.5L156.9 724.3M172.7 727.0L175.4 720.3M172.9 722.6L175.4 720.3L175.6 723.7M190.9 727.0L193.6 718.9M190.8 721.8L193.6 718.9L194.0 722.9M209.1 727.0L212.0 717.6M208.9 721.0L212.0 717.6L212.6 722.2M227.3 727.0L229.8 716.5M226.6 720.5L229.8 716.5L230.8 721.5M245.5 727.0L247.5 715.0M244.2 719.7L247.5 715.0L249.0 720.5M263.6 727.0L265.7 714.0M262.2 719.2L265.7 714.0L267.4 720.0M281.8 727.0L284.8 712.9M280.7 718.3L284.8 712.9L286.3 719.5M300.0 727.0L302.7 711.5M298.5 717.6L302.7 711.5L304.6 718.6M318.2 727.0L320.4 710.8M316.3 717.2L320.4 710.8L322.7 718.1M336.4 727.0L338.1 710.4M334.1 717.1L338.1 710.4L340.7 717.8M354.5 727.0L356.0 710.1M352.0 717.0L356.0 710.1L358.8 717.6M372.7 727.0L373.9 709.8M370.0 716.9L373.9 709.8L376.8 717.4M390.9 727.0L391.5 709.2M387.7 716.7L391.5 709.2L394.8 716.9M409.1 727.0L408.4 705.0M404.3 714.5L408.4 705.0L413.1 714.2M427.3 727.0L425.2 703.9M421.5 714.2L425.2 703.9L430.6 713.4M445.5 727.0L444.3 707.5M440.9 716.1L444.3 707.5L448.7 715.6M463.6 727.0L461.9 716.3M460.5 721.2L461.9 716.3L464.8 720.5M481.8 727.0L479.9 722.5M479.8 724.8L479.9 722.5L481.6 724.0M500.0 727.0L498.5 724.9M498.7 726.1L498.5 724.9L499.5 725.5M518.2 727.0L516.4 725.6M516.9 726.6L516.4 725.6L517.4 725.8M536.4 727.0L535.0 725.6M535.3 726.4L535.0 725.6L535.9 725.9M554.5 727.0L553.7 725.2M553.7 726.1L553.7 725.2L554.4 725.8M572.7 727.0L573.5 724.1M572.6 725.2L573.5 724.1L573.7 725.5M590.9 727.0L593.1 723.0M591.3 724.3L593.1 723.0L593.0 725.1M609.1 727.0L611.0 722.5M609.3 724.0L611.0 722.5L611.1 724.8M627.3 727.0L628.2 724.6M627.3 725.4L628.2 724.6L628.3 725.8M645.5 727.0L645.9 725.8M645.5 726.2L645.9 725.8L646.0 726.4M663.6 727.0L663.5 724.4M663.0 725.5L663.5 724.4L664.1 725.5M681.8 727.0L679.5 722.7M679.6 725.0L679.5 722.7L681.3 724.1M700.0 727.0L698.8 720.6M698.0 723.5L698.8 720.6L700.6 723.1M718.2 727.0L718.0 719.8M716.6 722.9L718.0 719.8L719.5 722.8M736.4 727.0L737.4 719.9M735.5 722.7L737.4 719.9L738.4 723.1M754.5 727.0L756.8 720.1M754.5 722.6L756.8 720.1L757.2 723.5M772.7 727.0L776.6 720.1M773.6 722.3L776.6 720.1L776.3 723.8M790.9 727.0L796.6 720.7M792.9 722.2L796.6 720.7L795.4 724.5M9.1 745.2L13.7 751.2M12.9 747.7L13.7 751.2L10.5 749.5M27.3 745.2L31.3 750.4M30.6 747.4L31.3 750.4L28.5 749.0M45.5 745.2L49.3 748.7M48.4 746.4L49.3 748.7L47.0 748.0M63.6 745.2L67.2 743.5M65.4 743.5L67.2 743.5L66.0 745.0M81.8 745.2L84.3 743.6M83.0 743.8L84.3 743.6L83.6 744.8M100.0 745.2L100.9 743.8M100.2 744.2L100.9 743.8L100.8 744.6M118.2 745.2L118.8 743.0M118.1 743.8L118.8 743.0L119.0 744.1M136.4 745.2L136.7 741.6M135.9 743.1L136.7 741.6L137.3 743.2M154.5 745.2L155.8 740.4M154.3 742.2L155.8 740.4L156.2 742.7M172.7 745.2L174.0 739.1M172.2 741.4L174.0 739.1L174.6 741.9M190.9 745.2L192.0 737.7M190.1 740.7L192.0 737.7L193.0 741.1M209.1 745.2L209.4 736.7M207.6 740.2L209.4 736.7L210.9 740.4M227.3 745.2L227.5 735.3M225.4 739.5L227.5 735.3L229.4 739.6M245.5 745.2L245.6 734.0M243.3 738.8L245.6 734.0L247.8 738.8M263.6 745.2L263.9 732.7M261.3 738.0L263.9 732.7L266.3 738.1M281.8 745.2L282.8 731.4M279.7 737.1L282.8 731.4L285.1 737.5M300.0 745.2L301.1 730.1M297.6 736.3L301.1 730.1L303.6 736.8M318.2 745.2L319.1 729.1M315.5 735.8L319.1 729.1L321.9 736.2M336.4 745.2L337.0 728.8M333.5 735.6L337.0 728.8L340.0 735.9M354.5 745.2L355.2 728.5M351.6 735.5L355.2 728.5L358.2 735.7M372.7 745.2L373.1 728.1M369.5 735.3L373.1 728.1L376.3 735.4M390.9 745.2L390.9 727.4M387.3 735.0L390.9 727.4L394.4 735.0M409.1 745.2L407.6 723.2M403.9 732.9L407.6 723.2L412.6 732.3M427.3 745.2L423.9 721.9M420.7 732.5L423.9 721.9L430.0 731.1M445.5 745.2L443.1 724.1M439.9 733.6L443.1 724.1L448.3 732.6M463.6 745.2L459.1 731.8M458.4 738.4L459.1 731.8L463.7 736.6M481.8 745.2L477.4 741.3M478.5 743.8L477.4 741.3L480.0 742.1M500.0 745.2L497.1 745.4M498.3 745.9L497.1 745.4L498.3 744.7M518.2 745.2L515.6 745.5M516.7 745.9L515.6 745.5L516.6 744.8M536.4 745.2L534.7 744.1M535.2 744.9L534.7 744.1L535.6 744.2M554.5 745.2L553.5 743.5M553.6 744.4L553.5 743.5L554.3 744.0M572.7 745.2L573.5 742.0M572.6 743.2L573.5 742.0L573.8 743.5M590.9 745.2L590.9 739.9M589.9 742.2L590.9 739.9L592.0 742.2M609.1 745.2L607.4 739.2M606.9 742.1L607.4 739.2L609.3 741.4M627.3 745.2L624.3 742.7M625.0 744.3L624.3 742.7L626.0 743.1M645.5 745.2L643.1 743.4M643.8 744.6L643.1 743.4L644.5 743.7M663.6 745.2L661.2 742.5M661.7 744.1L661.2 742.5L662.8 743.2M681.8 745.2L678.5 740.7M679.0 743.3L678.5 740.7L680.8 742.0M700.0 745.2L696.5 739.3M696.8 742.5L696.5 739.3L699.2 741.1M718.2 745.2L715.3 738.6M715.2 742.0L715.3 738.6L717.8 740.8M736.4 745.2L733.9 739.1M733.7 742.2L733.9 739.1L736.1 741.2M754.5 745.2L753.0 740.2M752.7 742.6L753.0 740.2L754.7 742.0M772.7 745.2L772.7 740.9M771.9 742.7L772.7 740.9L773.6 742.7M790.9 745.2L793.0 742.6M791.6 743.3L793.0 742.6L792.6 744.1M9.1 763.4L13.6 769.4M12.9 765.9L13.6 769.4L10.5 767.7M27.3 763.4L31.4 768.9M30.8 765.7L31.4 768.9L28.6 767.3M45.5 763.4L49.3 766.9M48.4 764.7L49.3 766.9L47.0 766.2M63.6 763.4L67.2 761.7M65.3 761.7L67.2 761.7L66.0 763.1M81.8 763.4L84.1 762.0M82.8 762.1L84.1 762.0L83.4 763.0M100.0 763.4L100.7 762.3M100.2 762.6L100.7 762.3L100.6 762.9M118.2 763.4L120.0 764.1M119.4 763.4L120.0 764.1L119.1 764.2M136.4 763.4L138.6 765.8M138.1 764.3L138.6 765.8L137.2 765.2M154.5 763.4L154.8 758.8M153.8 760.7L154.8 758.8L155.6 760.8M172.7 763.4L172.9 757.5M171.6 760.0L172.9 757.5L174.0 760.0M190.9 763.4L191.0 756.5M189.6 759.4L191.0 756.5L192.3 759.4M209.1 763.4L208.5 755.5M207.2 759.0L208.5 755.5L210.3 758.7M227.3 763.4L227.3 754.2M225.4 758.1L227.3 754.2L229.1 758.1M245.5 763.4L244.8 752.9M243.0 757.5L244.8 752.9L247.1 757.2M263.6 763.4L263.6 751.6M261.3 756.6L263.6 751.6L266.0 756.6M281.8 763.4L281.2 750.3M278.9 756.0L281.2 750.3L284.1 755.7M300.0 763.4L300.1 748.6M297.1 754.9L300.1 748.6L303.0 754.9M318.2 763.4L318.3 747.6M315.1 754.3L318.3 747.6L321.4 754.4M336.4 763.4L336.5 747.0M333.2 753.9L336.5 747.0L339.7 754.0M354.5 763.4L354.6 746.6M351.3 753.8L354.6 746.6L357.9 753.8M372.7 763.4L372.7 746.4M369.4 753.6L372.7 746.4L376.1 753.6M390.9 763.4L390.3 745.9M387.1 753.4L390.3 745.9L394.1 753.2M409.1 763.4L407.2 741.7M403.7 751.3L407.2 741.7L412.3 750.6M427.3 763.4L422.8 740.7M420.2 751.2L422.8 740.7L429.2 749.4M445.5 763.4L440.4 743.1M438.5 752.7L440.4 743.1L446.6 750.7M463.6 763.4L457.3 748.9M457.1 756.3L457.3 748.9L462.9 753.8M481.8 763.4L476.2 758.8M477.7 761.8L476.2 758.8L479.5 759.6M500.0 763.4L496.2 764.5M498.0 764.8L496.2 764.5L497.6 763.3M518.2 763.4L515.0 764.3M516.6 764.5L515.0 764.3L516.2 763.3M536.4 763.4L533.9 762.4M534.8 763.3L533.9 762.4L535.1 762.3M554.5 763.4L552.6 761.6M553.1 762.7L552.6 761.6L553.8 762.0M572.7 763.4L570.9 759.5M570.9 761.5L570.9 759.5L572.5 760.8M590.9 763.4L589.0 757.8M588.7 760.5L589.0 757.8L590.9 759.8M609.1 763.4L605.6 755.6M605.6 759.6L605.6 755.6L608.7 758.2M627.3 763.4L621.9 757.7M623.0 761.2L621.9 757.7L625.3 759.0M645.5 763.4L639.8 758.3M641.2 761.6L639.8 758.3L643.2 759.4M663.6 763.4L657.8 758.1M659.2 761.5L657.8 758.1L661.3 759.2M681.8 763.4L675.0 757.2M676.7 761.2L675.0 757.2L679.2 758.5M700.0 763.4L689.9 755.5M692.6 760.9L689.9 755.5L695.7 756.9M718.2 763.4L705.0 755.4M709.0 761.4L705.0 755.4L712.2 756.2M736.4 763.4L721.5 754.3M726.0 761.1L721.5 754.3L729.6 755.2M754.5 763.4L738.7 753.0M743.4 760.5L738.7 753.0L747.5 754.3M772.7 763.4L758.1 752.5M762.2 760.1L758.1 752.5L766.5 754.2M790.9 763.4L777.4 754.0M781.3 760.7L777.4 754.0L785.0 755.3"/>
<path shape-rendering="crispEdges" fill="none" stroke="#808080" stroke-width="1" d="M9.5 27V773M81.5 27V773M154.5 27V773M227.5 27V773M299.5 27V773M372.5 27V773M445.5 27V773M518.5 27V773M590.5 27V773M663.5 27V773M736.5 27V773M0 36.5H800M0 109.5H800M0 181.5H800M0 254.5H800M0 327.5H800M0 400.5H800M0 472.5H800M0 545.5H800M0 618.5H800M0 690.5H800M0 763.5H800"/>
<path shape-rendering="crispEdges" fill="none" stroke="#000" stroke-width="0.85" d="M216.2 180.0L215.6 185.0L211.0 188.8L197.5 187.5L195.6 189.4L196.9 191.2L195.6 198.8L196.9 203.0L191.2 208.0L188.8 216.2L187.2 226.2L187.5 235.0L193.8 243.8L195.0 253.8L199.4 257.5L200.0 266.2L196.2 272.5L185.5 275.5L192.2 277.8L194.5 281.5L190.8 285.2L192.2 291.2L200.5 295.8L205.0 301.0L215.5 307.8L226.0 311.5L232.0 315.2L236.5 314.5L244.0 319.0L254.5 325.0L265.0 331.8L277.5 339.5L286.0 349.5L290.0 357.0L288.8 363.0L280.0 372.0L273.8 379.5L272.0 389.5L273.8 399.5L280.0 409.5L290.0 420.8L300.0 425.8L310.0 427.0L316.0 422.0L318.8 427.0L320.0 427.0L323.8 444.5L324.5 464.5L317.5 473.0L307.5 485.8L298.8 499.5L287.5 512.0L275.0 520.8L266.0 529.5L261.0 539.5L261.0 549.5L256.0 555.8L240.0 564.5L225.0 570.8L212.5 575.8L200.0 580.8L185.0 585.8L162.5 590.8L150.0 595.8L135.0 598.0L110.0 600.8L100.0 604.5L82.5 607.0L32.5 613.0L7.5 615.8L0.0 618.0M221.9 180.0L221.2 185.0L216.2 189.4L210.0 190.0L202.5 190.0L200.6 192.5L201.2 205.0L196.9 210.0L200.0 213.8L195.6 220.0L196.2 230.0L197.5 248.8L203.8 253.8L210.0 260.0L212.5 265.6L220.0 266.9L226.0 274.0L233.5 281.5L236.5 287.5L241.0 289.0L253.0 286.0L262.0 286.8L271.0 285.2L280.0 286.0L287.5 287.0L300.0 295.8L307.5 302.0L320.0 305.8L330.0 308.0L342.5 310.8L345.0 313.0L343.0 317.0L355.0 318.0L360.0 322.0L370.0 318.0L380.0 313.0L390.0 310.8L400.0 310.8L417.5 312.0L425.0 318.0L437.5 319.0L445.0 320.8L448.8 325.0L457.5 320.8L475.0 314.5L495.0 307.0L493.8 302.0L498.8 300.8L500.0 304.5L507.5 302.0L517.5 293.0L535.0 282.0L536.0 274.5L545.0 265.8L552.5 252.0L557.5 239.5L562.5 234.5M235.0 28.0L233.8 52.0L225.0 67.0L227.5 77.0L223.8 94.5L212.5 99.5L216.0 109.5L213.8 120.8L220.0 129.5L212.0 143.0L215.0 169.5L216.0 179.5L216.2 180.0M212.5 143.0L217.5 157.0L222.5 172.0L222.5 179.5L221.9 180.0M358.0 27.0L362.0 34.0L368.0 40.0L375.0 42.5L382.5 41.9L389.4 37.5L391.9 32.5L397.5 31.9L398.8 28.0M406.2 27.5L409.4 30.0L413.8 34.4L418.8 38.8L420.6 45.0L425.0 48.1L427.5 53.8L433.8 55.6L437.5 60.0L441.2 56.2L446.2 60.0L455.0 66.2L460.0 68.1L465.0 68.0L480.0 75.8L492.5 89.5L507.5 102.0L510.0 100.8L517.5 103.0L525.0 107.0L536.0 113.0L542.5 127.0L543.8 134.5L550.0 142.0L560.0 149.5L572.5 153.0L580.0 157.0L582.5 163.0L570.0 172.0L567.5 179.5L555.0 187.0L551.0 197.0L552.5 212.0L551.0 227.0L556.0 232.0L562.5 234.5M562.5 234.5L575.0 227.0L585.0 219.5L600.0 208.0L617.5 190.8L625.0 177.0L630.0 160.0L636.0 144.8L642.5 135.9L648.2 127.7L658.7 121.2L668.5 111.5L673.4 103.4L691.2 92.0L710.7 80.6L723.8 70.0L736.7 59.5L749.7 46.5L764.4 28.6L766.0 27.0M701.0 27.0L701.0 36.8L703.4 41.6L691.2 46.5L689.6 53.0L675.0 56.2L667.7 59.5L663.6 65.2L662.5 72.0L661.0 77.0M656.5 78.5L658.0 76.5L660.5 77.0L661.0 79.5L659.0 81.0L657.0 80.5L656.5 78.5M661.2 82.2L655.5 88.0L648.2 89.5L647.4 96.9L644.9 98.5L646.6 103.4L652.2 105.0L645.7 108.2L644.9 113.1L652.2 114.7L657.1 110.7L656.3 118.0L657.9 120.4M658.0 95.5L662.8 98.5L662.8 105.0L658.0 110.0M658.0 96.0L668.5 98.5L675.0 95.2L678.2 92.8L689.6 88.7L701.0 80.6L703.4 79.0L701.8 75.0L705.9 72.5L709.1 74.1L715.6 71.7L722.1 64.4L724.6 59.5L723.8 46.5L726.2 41.6L735.1 40.0L735.9 43.2L740.0 42.4L737.6 40.0L738.4 30.2L736.7 27.0"/>
<g font-family="'Liberation Sans',sans-serif" font-size="11.3" fill="#8a7070" opacity="0.99"><text x="792.5" y="31.3" text-anchor="end" textLength="20.8" lengthAdjust="spacingAndGlyphs">31S</text><text x="792.5" y="104.3" text-anchor="end" textLength="20.8" lengthAdjust="spacingAndGlyphs">32S</text><text x="792.5" y="176.3" text-anchor="end" textLength="20.8" lengthAdjust="spacingAndGlyphs">33S</text><text x="792.5" y="249.3" text-anchor="end" textLength="20.8" lengthAdjust="spacingAndGlyphs">34S</text><text x="792.5" y="322.3" text-anchor="end" textLength="20.8" lengthAdjust="spacingAndGlyphs">35S</text><text x="792.5" y="395.3" text-anchor="end" textLength="20.8" lengthAdjust="spacingAndGlyphs">36S</text><text x="792.5" y="467.3" text-anchor="end" textLength="20.8" lengthAdjust="spacingAndGlyphs">37S</text><text x="792.5" y="540.3" text-anchor="end" textLength="20.8" lengthAdjust="spacingAndGlyphs">38S</text><text x="792.5" y="613.3" text-anchor="end" textLength="20.8" lengthAdjust="spacingAndGlyphs">39S</text><text x="792.5" y="685.3" text-anchor="end" textLength="20.8" lengthAdjust="spacingAndGlyphs">40S</text><text x="792.5" y="758.3" text-anchor="end" textLength="20.8" lengthAdjust="spacingAndGlyphs">41S</text><text transform="translate(14.0 765.5) rotate(90)" text-anchor="end" textLength="21.5" lengthAdjust="spacingAndGlyphs">61W</text><text transform="translate(86.0 765.5) rotate(90)" text-anchor="end" textLength="21.5" lengthAdjust="spacingAndGlyphs">60W</text><text transform="translate(159.0 765.5) rotate(90)" text-anchor="end" textLength="21.5" lengthAdjust="spacingAndGlyphs">59W</text><text transform="translate(232.0 765.5) rotate(90)" text-anchor="end" textLength="21.5" lengthAdjust="spacingAndGlyphs">58W</text><text transform="translate(304.0 765.5) rotate(90)" text-anchor="end" textLength="21.5" lengthAdjust="spacingAndGlyphs">57W</text><text transform="translate(377.0 765.5) rotate(90)" text-anchor="end" textLength="21.5" lengthAdjust="spacingAndGlyphs">56W</text><text transform="translate(450.0 765.5) rotate(90)" text-anchor="end" textLength="21.5" lengthAdjust="spacingAndGlyphs">55W</text><text transform="translate(523.0 765.5) rotate(90)" text-anchor="end" textLength="21.5" lengthAdjust="spacingAndGlyphs">54W</text><text transform="translate(595.0 765.5) rotate(90)" text-anchor="end" textLength="21.5" lengthAdjust="spacingAndGlyphs">53W</text><text transform="translate(668.0 765.5) rotate(90)" text-anchor="end" textLength="21.5" lengthAdjust="spacingAndGlyphs">52W</text><text transform="translate(741.0 765.5) rotate(90)" text-anchor="end" textLength="21.5" lengthAdjust="spacingAndGlyphs">51W</text></g>
</g>
<path shape-rendering="crispEdges" fill="none" stroke="#000" stroke-width="1" d="M1.5 27v4M1.5 773v-4M9.5 27v18M9.5 773v-18M16.5 27v4M16.5 773v-4M23.5 27v4M23.5 773v-4M30.5 27v4M30.5 773v-4M38.5 27v4M38.5 773v-4M45.5 27v9M45.5 773v-9M52.5 27v4M52.5 773v-4M59.5 27v4M59.5 773v-4M67.5 27v4M67.5 773v-4M74.5 27v4M74.5 773v-4M81.5 27v18M81.5 773v-18M89.5 27v4M89.5 773v-4M96.5 27v4M96.5 773v-4M103.5 27v4M103.5 773v-4M110.5 27v4M110.5 773v-4M118.5 27v9M118.5 773v-9M125.5 27v4M125.5 773v-4M132.5 27v4M132.5 773v-4M139.5 27v4M139.5 773v-4M147.5 27v4M147.5 773v-4M154.5 27v18M154.5 773v-18M161.5 27v4M161.5 773v-4M169.5 27v4M169.5 773v-4M176.5 27v4M176.5 773v-4M183.5 27v4M183.5 773v-4M190.5 27v9M190.5 773v-9M198.5 27v4M198.5 773v-4M205.5 27v4M205.5 773v-4M212.5 27v4M212.5 773v-4M219.5 27v4M219.5 773v-4M227.5 27v18M227.5 773v-18M234.5 27v4M234.5 773v-4M241.5 27v4M241.5 773v-4M249.5 27v4M249.5 773v-4M256.5 27v4M256.5 773v-4M263.5 27v9M263.5 773v-9M270.5 27v4M270.5 773v-4M278.5 27v4M278.5 773v-4M285.5 27v4M285.5 773v-4M292.5 27v4M292.5 773v-4M299.5 27v18M299.5 773v-18M307.5 27v4M307.5 773v-4M314.5 27v4M314.5 773v-4M321.5 27v4M321.5 773v-4M329.5 27v4M329.5 773v-4M336.5 27v9M336.5 773v-9M343.5 27v4M343.5 773v-4M350.5 27v4M350.5 773v-4M358.5 27v4M358.5 773v-4M365.5 27v4M365.5 773v-4M372.5 27v18M372.5 773v-18M379.5 27v4M379.5 773v-4M387.5 27v4M387.5 773v-4M394.5 27v4M394.5 773v-4M401.5 27v4M401.5 773v-4M409.5 27v9M409.5 773v-9M416.5 27v4M416.5 773v-4M423.5 27v4M423.5 773v-4M430.5 27v4M430.5 773v-4M438.5 27v4M438.5 773v-4M445.5 27v18M445.5 773v-18M452.5 27v4M452.5 773v-4M459.5 27v4M459.5 773v-4M467.5 27v4M467.5 773v-4M474.5 27v4M474.5 773v-4M481.5 27v9M481.5 773v-9M489.5 27v4M489.5 773v-4M496.5 27v4M496.5 773v-4M503.5 27v4M503.5 773v-4M510.5 27v4M510.5 773v-4M518.5 27v18M518.5 773v-18M525.5 27v4M525.5 773v-4M532.5 27v4M532.5 773v-4M539.5 27v4M539.5 773v-4M547.5 27v4M547.5 773v-4M554.5 27v9M554.5 773v-9M561.5 27v4M561.5 773v-4M569.5 27v4M569.5 773v-4M576.5 27v4M576.5 773v-4M583.5 27v4M583.5 773v-4M590.5 27v18M590.5 773v-18M598.5 27v4M598.5 773v-4M605.5 27v4M605.5 773v-4M612.5 27v4M612.5 773v-4M619.5 27v4M619.5 773v-4M627.5 27v9M627.5 773v-9M634.5 27v4M634.5 773v-4M641.5 27v4M641.5 773v-4M649.5 27v4M649.5 773v-4M656.5 27v4M656.5 773v-4M663.5 27v18M663.5 773v-18M670.5 27v4M670.5 773v-4M678.5 27v4M678.5 773v-4M685.5 27v4M685.5 773v-4M692.5 27v4M692.5 773v-4M699.5 27v9M699.5 773v-9M707.5 27v4M707.5 773v-4M714.5 27v4M714.5 773v-4M721.5 27v4M721.5 773v-4M729.5 27v4M729.5 773v-4M736.5 27v18M736.5 773v-18M743.5 27v4M743.5 773v-4M750.5 27v4M750.5 773v-4M758.5 27v4M758.5 773v-4M765.5 27v4M765.5 773v-4M772.5 27v9M772.5 773v-9M779.5 27v4M779.5 773v-4M787.5 27v4M787.5 773v-4M794.5 27v4M794.5 773v-4M0 29.5h4M800 29.5h-4M0 36.5h18M800 36.5h-18M0 43.5h4M800 43.5h-4M0 50.5h4M800 50.5h-4M0 58.5h4M800 58.5h-4M0 65.5h4M800 65.5h-4M0 72.5h9M800 72.5h-9M0 80.5h4M800 80.5h-4M0 87.5h4M800 87.5h-4M0 94.5h4M800 94.5h-4M0 101.5h4M800 101.5h-4M0 109.5h18M800 109.5h-18M0 116.5h4M800 116.5h-4M0 123.5h4M800 123.5h-4M0 130.5h4M800 130.5h-4M0 138.5h4M800 138.5h-4M0 145.5h9M800 145.5h-9M0 152.5h4M800 152.5h-4M0 160.5h4M800 160.5h-4M0 167.5h4M800 167.5h-4M0 174.5h4M800 174.5h-4M0 181.5h18M800 181.5h-18M0 189.5h4M800 189.5h-4M0 196.5h4M800 196.5h-4M0 203.5h4M800 203.5h-4M0 210.5h4M800 210.5h-4M0 218.5h9M800 218.5h-9M0 225.5h4M800 225.5h-4M0 232.5h4M800 232.5h-4M0 240.5h4M800 240.5h-4M0 247.5h4M800 247.5h-4M0 254.5h18M800 254.5h-18M0 261.5h4M800 261.5h-4M0 269.5h4M800 269.5h-4M0 276.5h4M800 276.5h-4M0 283.5h4M800 283.5h-4M0 290.5h9M800 290.5h-9M0 298.5h4M800 298.5h-4M0 305.5h4M800 305.5h-4M0 312.5h4M800 312.5h-4M0 320.5h4M800 320.5h-4M0 327.5h18M800 327.5h-18M0 334.5h4M800 334.5h-4M0 341.5h4M800 341.5h-4M0 349.5h4M800 349.5h-4M0 356.5h4M800 356.5h-4M0 363.5h9M800 363.5h-9M0 370.5h4M800 370.5h-4M0 378.5h4M800 378.5h-4M0 385.5h4M800 385.5h-4M0 392.5h4M800 392.5h-4M0 400.5h18M800 400.5h-18M0 407.5h4M800 407.5h-4M0 414.5h4M800 414.5h-4M0 421.5h4M800 421.5h-4M0 429.5h4M800 429.5h-4M0 436.5h9M800 436.5h-9M0 443.5h4M800 443.5h-4M0 450.5h4M800 450.5h-4M0 458.5h4M800 458.5h-4M0 465.5h4M800 465.5h-4M0 472.5h18M800 472.5h-18M0 480.5h4M800 480.5h-4M0 487.5h4M800 487.5h-4M0 494.5h4M800 494.5h-4M0 501.5h4M800 501.5h-4M0 509.5h9M800 509.5h-9M0 516.5h4M800 516.5h-4M0 523.5h4M800 523.5h-4M0 530.5h4M800 530.5h-4M0 538.5h4M800 538.5h-4M0 545.5h18M800 545.5h-18M0 552.5h4M800 552.5h-4M0 560.5h4M800 560.5h-4M0 567.5h4M800 567.5h-4M0 574.5h4M800 574.5h-4M0 581.5h9M800 581.5h-9M0 589.5h4M800 589.5h-4M0 596.5h4M800 596.5h-4M0 603.5h4M800 603.5h-4M0 610.5h4M800 610.5h-4M0 618.5h18M800 618.5h-18M0 625.5h4M800 625.5h-4M0 632.5h4M800 632.5h-4M0 640.5h4M800 640.5h-4M0 647.5h4M800 647.5h-4M0 654.5h9M800 654.5h-9M0 661.5h4M800 661.5h-4M0 669.5h4M800 669.5h-4M0 676.5h4M800 676.5h-4M0 683.5h4M800 683.5h-4M0 690.5h18M800 690.5h-18M0 698.5h4M800 698.5h-4M0 705.5h4M800 705.5h-4M0 712.5h4M800 712.5h-4M0 720.5h4M800 720.5h-4M0 727.5h9M800 727.5h-9M0 734.5h4M800 734.5h-4M0 741.5h4M800 741.5h-4M0 749.5h4M800 749.5h-4M0 756.5h4M800 756.5h-4M0 763.5h18M800 763.5h-18M0 770.5h4M800 770.5h-4M0.5 27V773M0 27.5H800M0 772.5H800"/>
<g shape-rendering="crispEdges"><rect x="32" y="160" width="49" height="609" fill="#000"/><rect x="33" y="161" width="47" height="607" fill="#fff"/><rect x="34" y="162" width="45" height="605" fill="url(#cb)"/></g>
<g font-family="'Liberation Sans',sans-serif" font-size="13.2" fill="#000" opacity="0.99"><text x="86.5" y="164.4" letter-spacing="1.6">30</text><text x="86.5" y="316.1" letter-spacing="1.6">22</text><text x="86.5" y="467.9" letter-spacing="1.6">15</text><text x="86.5" y="619.6" letter-spacing="1.6">8</text><text x="86.5" y="771.4" letter-spacing="1.6">0</text></g>
<text x="34" y="148.6" font-family="'DejaVu Sans Light','DejaVu Sans','Liberation Sans',sans-serif" font-weight="200" font-size="15" letter-spacing="1" fill="#000" stroke="#000" stroke-width="0.25">[m/s]</text>
<g font-family="'DejaVu Sans','Liberation Sans',sans-serif" font-weight="bold" font-size="24.7" fill="#808080" opacity="0.99" style="white-space:pre"><text y="50"><tspan x="4.4" textLength="105.7" lengthAdjust="spacing">modelo</tspan> <tspan x="119.6" textLength="165.3" lengthAdjust="spacing">GEFS-WAVE</tspan> <tspan x="293.7" textLength="96" lengthAdjust="spacing">(NCEP)</tspan></text><text y="72.7"><tspan x="5.1" textLength="199.9" lengthAdjust="spacing">forecast date:</tspan> <tspan x="213.5" textLength="286.6" lengthAdjust="spacing">2023-06-16 06:00:00</tspan></text><text y="95.6"><tspan x="41.6" textLength="150.8" lengthAdjust="spacing">valid date:</tspan> <tspan x="201" textLength="288.8" lengthAdjust="spacing">2023-06-17 21:00:00</tspan></text></g>
</svg>
</body></html>
